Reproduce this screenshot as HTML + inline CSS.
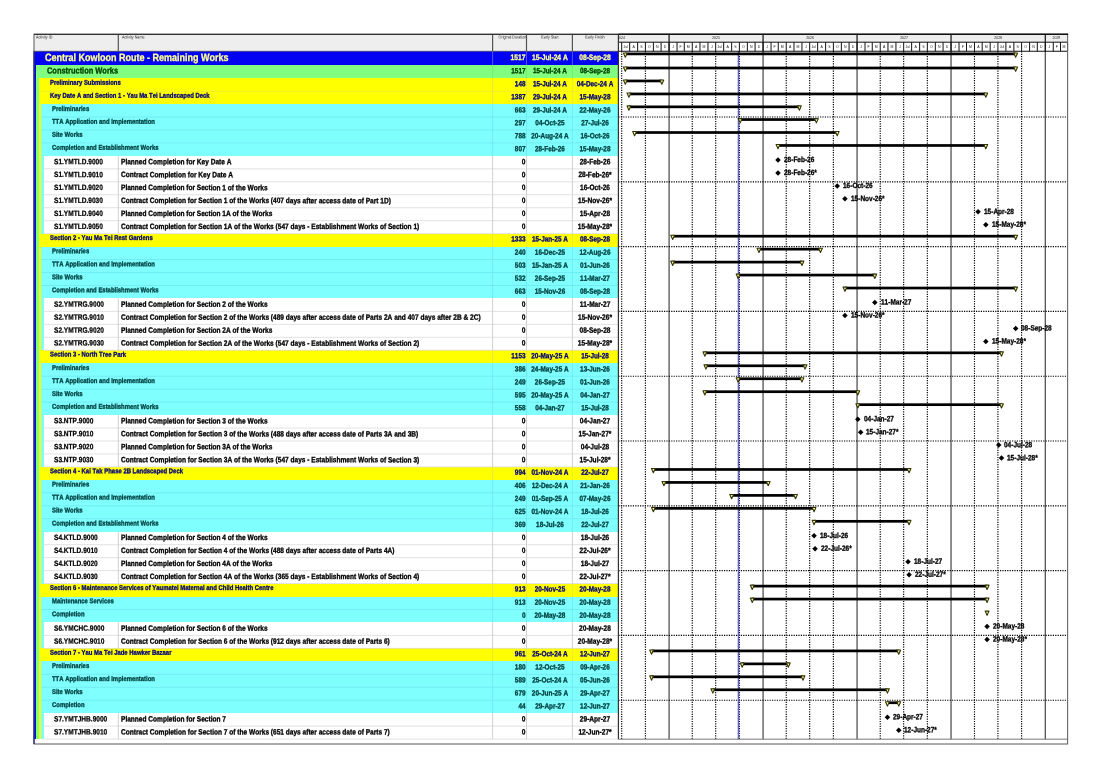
<!DOCTYPE html>
<html><head><meta charset="utf-8"><title>Central Kowloon Route - Remaining Works</title>
<style>
html,body{margin:0;padding:0;background:#fff;}
body{width:1103px;height:780px;position:relative;overflow:hidden;font-family:"Liberation Sans",sans-serif;}
.a{position:absolute;}
.t{position:absolute;top:0;font-kerning:none;white-space:nowrap;font-weight:bold;line-height:1;transform-origin:0 50%;transform:translateY(var(--y)) translateY(-50%) rotate(0.03deg) scaleY(1.18);-webkit-text-stroke:0.27px currentColor;}
#w{position:absolute;left:0;top:0;width:1103px;height:780px;will-change:transform;filter:blur(0.35px);}
.c{text-align:center;}
.r{text-align:right;}
.h{font-weight:normal;font-size:3.7px;color:#222;-webkit-text-stroke:0;}
svg{position:absolute;left:0;top:0;}
</style></head><body><div id="w">

<div class="a" style="left:34.00px;top:34.30px;width:584.40px;height:17.00px;background:#eeeeee;"></div>
<div class="a" style="left:33.80px;top:50.80px;width:584.60px;height:14.20px;background:#0303f4;"></div>
<div class="a" style="left:33.80px;top:64.80px;width:2.50px;height:13.80px;background:#0303f4;"></div>
<div class="a" style="left:36.00px;top:64.80px;width:582.40px;height:13.80px;background:#80ff80;"></div>
<div class="a" style="left:33.80px;top:78.40px;width:2.50px;height:13.20px;background:#0303f4;"></div>
<div class="a" style="left:36.00px;top:78.40px;width:2.90px;height:13.20px;background:#80ff80;"></div>
<div class="a" style="left:38.60px;top:78.40px;width:579.80px;height:13.20px;background:#ffff00;"></div>
<div class="a" style="left:33.80px;top:91.40px;width:2.50px;height:13.10px;background:#0303f4;"></div>
<div class="a" style="left:36.00px;top:91.40px;width:2.90px;height:13.10px;background:#80ff80;"></div>
<div class="a" style="left:38.60px;top:91.40px;width:579.80px;height:13.10px;background:#ffff00;"></div>
<div class="a" style="left:33.80px;top:104.30px;width:2.50px;height:12.90px;background:#0303f4;"></div>
<div class="a" style="left:36.00px;top:104.30px;width:2.90px;height:12.90px;background:#80ff80;"></div>
<div class="a" style="left:38.60px;top:104.30px;width:3.10px;height:12.90px;background:#ffff00;"></div>
<div class="a" style="left:41.40px;top:104.30px;width:577.00px;height:12.90px;background:#80ffff;"></div>
<div class="a" style="left:33.80px;top:117.00px;width:2.50px;height:13.16px;background:#0303f4;"></div>
<div class="a" style="left:36.00px;top:117.00px;width:2.90px;height:13.16px;background:#80ff80;"></div>
<div class="a" style="left:38.60px;top:117.00px;width:3.10px;height:13.16px;background:#ffff00;"></div>
<div class="a" style="left:41.40px;top:117.00px;width:577.00px;height:13.16px;background:#80ffff;"></div>
<div class="a" style="left:33.80px;top:129.96px;width:2.50px;height:13.16px;background:#0303f4;"></div>
<div class="a" style="left:36.00px;top:129.96px;width:2.90px;height:13.16px;background:#80ff80;"></div>
<div class="a" style="left:38.60px;top:129.96px;width:3.10px;height:13.16px;background:#ffff00;"></div>
<div class="a" style="left:41.40px;top:129.96px;width:577.00px;height:13.16px;background:#80ffff;"></div>
<div class="a" style="left:33.80px;top:142.92px;width:2.50px;height:13.16px;background:#0303f4;"></div>
<div class="a" style="left:36.00px;top:142.92px;width:2.90px;height:13.16px;background:#80ff80;"></div>
<div class="a" style="left:38.60px;top:142.92px;width:3.10px;height:13.16px;background:#ffff00;"></div>
<div class="a" style="left:41.40px;top:142.92px;width:577.00px;height:13.16px;background:#80ffff;"></div>
<div class="a" style="left:33.80px;top:155.88px;width:2.50px;height:13.16px;background:#0303f4;"></div>
<div class="a" style="left:36.00px;top:155.88px;width:2.90px;height:13.16px;background:#80ff80;"></div>
<div class="a" style="left:38.60px;top:155.88px;width:3.10px;height:13.16px;background:#ffff00;"></div>
<div class="a" style="left:41.40px;top:155.88px;width:2.80px;height:13.16px;background:#80ffff;"></div>
<div class="a" style="left:43.90px;top:155.88px;width:574.50px;height:13.16px;background:#ffffff;"></div>
<div class="a" style="left:33.80px;top:168.84px;width:2.50px;height:13.16px;background:#0303f4;"></div>
<div class="a" style="left:36.00px;top:168.84px;width:2.90px;height:13.16px;background:#80ff80;"></div>
<div class="a" style="left:38.60px;top:168.84px;width:3.10px;height:13.16px;background:#ffff00;"></div>
<div class="a" style="left:41.40px;top:168.84px;width:2.80px;height:13.16px;background:#80ffff;"></div>
<div class="a" style="left:43.90px;top:168.84px;width:574.50px;height:13.16px;background:#ffffff;"></div>
<div class="a" style="left:33.80px;top:181.80px;width:2.50px;height:13.16px;background:#0303f4;"></div>
<div class="a" style="left:36.00px;top:181.80px;width:2.90px;height:13.16px;background:#80ff80;"></div>
<div class="a" style="left:38.60px;top:181.80px;width:3.10px;height:13.16px;background:#ffff00;"></div>
<div class="a" style="left:41.40px;top:181.80px;width:2.80px;height:13.16px;background:#80ffff;"></div>
<div class="a" style="left:43.90px;top:181.80px;width:574.50px;height:13.16px;background:#ffffff;"></div>
<div class="a" style="left:33.80px;top:194.76px;width:2.50px;height:13.16px;background:#0303f4;"></div>
<div class="a" style="left:36.00px;top:194.76px;width:2.90px;height:13.16px;background:#80ff80;"></div>
<div class="a" style="left:38.60px;top:194.76px;width:3.10px;height:13.16px;background:#ffff00;"></div>
<div class="a" style="left:41.40px;top:194.76px;width:2.80px;height:13.16px;background:#80ffff;"></div>
<div class="a" style="left:43.90px;top:194.76px;width:574.50px;height:13.16px;background:#ffffff;"></div>
<div class="a" style="left:33.80px;top:207.72px;width:2.50px;height:13.16px;background:#0303f4;"></div>
<div class="a" style="left:36.00px;top:207.72px;width:2.90px;height:13.16px;background:#80ff80;"></div>
<div class="a" style="left:38.60px;top:207.72px;width:3.10px;height:13.16px;background:#ffff00;"></div>
<div class="a" style="left:41.40px;top:207.72px;width:2.80px;height:13.16px;background:#80ffff;"></div>
<div class="a" style="left:43.90px;top:207.72px;width:574.50px;height:13.16px;background:#ffffff;"></div>
<div class="a" style="left:33.80px;top:220.68px;width:2.50px;height:13.16px;background:#0303f4;"></div>
<div class="a" style="left:36.00px;top:220.68px;width:2.90px;height:13.16px;background:#80ff80;"></div>
<div class="a" style="left:38.60px;top:220.68px;width:3.10px;height:13.16px;background:#ffff00;"></div>
<div class="a" style="left:41.40px;top:220.68px;width:2.80px;height:13.16px;background:#80ffff;"></div>
<div class="a" style="left:43.90px;top:220.68px;width:574.50px;height:13.16px;background:#ffffff;"></div>
<div class="a" style="left:33.80px;top:233.64px;width:2.50px;height:13.16px;background:#0303f4;"></div>
<div class="a" style="left:36.00px;top:233.64px;width:2.90px;height:13.16px;background:#80ff80;"></div>
<div class="a" style="left:38.60px;top:233.64px;width:579.80px;height:13.16px;background:#ffff00;"></div>
<div class="a" style="left:33.80px;top:246.60px;width:2.50px;height:13.16px;background:#0303f4;"></div>
<div class="a" style="left:36.00px;top:246.60px;width:2.90px;height:13.16px;background:#80ff80;"></div>
<div class="a" style="left:38.60px;top:246.60px;width:3.10px;height:13.16px;background:#ffff00;"></div>
<div class="a" style="left:41.40px;top:246.60px;width:577.00px;height:13.16px;background:#80ffff;"></div>
<div class="a" style="left:33.80px;top:259.56px;width:2.50px;height:13.16px;background:#0303f4;"></div>
<div class="a" style="left:36.00px;top:259.56px;width:2.90px;height:13.16px;background:#80ff80;"></div>
<div class="a" style="left:38.60px;top:259.56px;width:3.10px;height:13.16px;background:#ffff00;"></div>
<div class="a" style="left:41.40px;top:259.56px;width:577.00px;height:13.16px;background:#80ffff;"></div>
<div class="a" style="left:33.80px;top:272.52px;width:2.50px;height:13.16px;background:#0303f4;"></div>
<div class="a" style="left:36.00px;top:272.52px;width:2.90px;height:13.16px;background:#80ff80;"></div>
<div class="a" style="left:38.60px;top:272.52px;width:3.10px;height:13.16px;background:#ffff00;"></div>
<div class="a" style="left:41.40px;top:272.52px;width:577.00px;height:13.16px;background:#80ffff;"></div>
<div class="a" style="left:33.80px;top:285.48px;width:2.50px;height:13.16px;background:#0303f4;"></div>
<div class="a" style="left:36.00px;top:285.48px;width:2.90px;height:13.16px;background:#80ff80;"></div>
<div class="a" style="left:38.60px;top:285.48px;width:3.10px;height:13.16px;background:#ffff00;"></div>
<div class="a" style="left:41.40px;top:285.48px;width:577.00px;height:13.16px;background:#80ffff;"></div>
<div class="a" style="left:33.80px;top:298.44px;width:2.50px;height:13.16px;background:#0303f4;"></div>
<div class="a" style="left:36.00px;top:298.44px;width:2.90px;height:13.16px;background:#80ff80;"></div>
<div class="a" style="left:38.60px;top:298.44px;width:3.10px;height:13.16px;background:#ffff00;"></div>
<div class="a" style="left:41.40px;top:298.44px;width:2.80px;height:13.16px;background:#80ffff;"></div>
<div class="a" style="left:43.90px;top:298.44px;width:574.50px;height:13.16px;background:#ffffff;"></div>
<div class="a" style="left:33.80px;top:311.40px;width:2.50px;height:13.16px;background:#0303f4;"></div>
<div class="a" style="left:36.00px;top:311.40px;width:2.90px;height:13.16px;background:#80ff80;"></div>
<div class="a" style="left:38.60px;top:311.40px;width:3.10px;height:13.16px;background:#ffff00;"></div>
<div class="a" style="left:41.40px;top:311.40px;width:2.80px;height:13.16px;background:#80ffff;"></div>
<div class="a" style="left:43.90px;top:311.40px;width:574.50px;height:13.16px;background:#ffffff;"></div>
<div class="a" style="left:33.80px;top:324.36px;width:2.50px;height:13.16px;background:#0303f4;"></div>
<div class="a" style="left:36.00px;top:324.36px;width:2.90px;height:13.16px;background:#80ff80;"></div>
<div class="a" style="left:38.60px;top:324.36px;width:3.10px;height:13.16px;background:#ffff00;"></div>
<div class="a" style="left:41.40px;top:324.36px;width:2.80px;height:13.16px;background:#80ffff;"></div>
<div class="a" style="left:43.90px;top:324.36px;width:574.50px;height:13.16px;background:#ffffff;"></div>
<div class="a" style="left:33.80px;top:337.32px;width:2.50px;height:13.16px;background:#0303f4;"></div>
<div class="a" style="left:36.00px;top:337.32px;width:2.90px;height:13.16px;background:#80ff80;"></div>
<div class="a" style="left:38.60px;top:337.32px;width:3.10px;height:13.16px;background:#ffff00;"></div>
<div class="a" style="left:41.40px;top:337.32px;width:2.80px;height:13.16px;background:#80ffff;"></div>
<div class="a" style="left:43.90px;top:337.32px;width:574.50px;height:13.16px;background:#ffffff;"></div>
<div class="a" style="left:33.80px;top:350.28px;width:2.50px;height:13.16px;background:#0303f4;"></div>
<div class="a" style="left:36.00px;top:350.28px;width:2.90px;height:13.16px;background:#80ff80;"></div>
<div class="a" style="left:38.60px;top:350.28px;width:579.80px;height:13.16px;background:#ffff00;"></div>
<div class="a" style="left:33.80px;top:363.24px;width:2.50px;height:13.16px;background:#0303f4;"></div>
<div class="a" style="left:36.00px;top:363.24px;width:2.90px;height:13.16px;background:#80ff80;"></div>
<div class="a" style="left:38.60px;top:363.24px;width:3.10px;height:13.16px;background:#ffff00;"></div>
<div class="a" style="left:41.40px;top:363.24px;width:577.00px;height:13.16px;background:#80ffff;"></div>
<div class="a" style="left:33.80px;top:376.20px;width:2.50px;height:13.16px;background:#0303f4;"></div>
<div class="a" style="left:36.00px;top:376.20px;width:2.90px;height:13.16px;background:#80ff80;"></div>
<div class="a" style="left:38.60px;top:376.20px;width:3.10px;height:13.16px;background:#ffff00;"></div>
<div class="a" style="left:41.40px;top:376.20px;width:577.00px;height:13.16px;background:#80ffff;"></div>
<div class="a" style="left:33.80px;top:389.16px;width:2.50px;height:13.16px;background:#0303f4;"></div>
<div class="a" style="left:36.00px;top:389.16px;width:2.90px;height:13.16px;background:#80ff80;"></div>
<div class="a" style="left:38.60px;top:389.16px;width:3.10px;height:13.16px;background:#ffff00;"></div>
<div class="a" style="left:41.40px;top:389.16px;width:577.00px;height:13.16px;background:#80ffff;"></div>
<div class="a" style="left:33.80px;top:402.12px;width:2.50px;height:13.16px;background:#0303f4;"></div>
<div class="a" style="left:36.00px;top:402.12px;width:2.90px;height:13.16px;background:#80ff80;"></div>
<div class="a" style="left:38.60px;top:402.12px;width:3.10px;height:13.16px;background:#ffff00;"></div>
<div class="a" style="left:41.40px;top:402.12px;width:577.00px;height:13.16px;background:#80ffff;"></div>
<div class="a" style="left:33.80px;top:415.08px;width:2.50px;height:13.16px;background:#0303f4;"></div>
<div class="a" style="left:36.00px;top:415.08px;width:2.90px;height:13.16px;background:#80ff80;"></div>
<div class="a" style="left:38.60px;top:415.08px;width:3.10px;height:13.16px;background:#ffff00;"></div>
<div class="a" style="left:41.40px;top:415.08px;width:2.80px;height:13.16px;background:#80ffff;"></div>
<div class="a" style="left:43.90px;top:415.08px;width:574.50px;height:13.16px;background:#ffffff;"></div>
<div class="a" style="left:33.80px;top:428.04px;width:2.50px;height:13.16px;background:#0303f4;"></div>
<div class="a" style="left:36.00px;top:428.04px;width:2.90px;height:13.16px;background:#80ff80;"></div>
<div class="a" style="left:38.60px;top:428.04px;width:3.10px;height:13.16px;background:#ffff00;"></div>
<div class="a" style="left:41.40px;top:428.04px;width:2.80px;height:13.16px;background:#80ffff;"></div>
<div class="a" style="left:43.90px;top:428.04px;width:574.50px;height:13.16px;background:#ffffff;"></div>
<div class="a" style="left:33.80px;top:441.00px;width:2.50px;height:13.16px;background:#0303f4;"></div>
<div class="a" style="left:36.00px;top:441.00px;width:2.90px;height:13.16px;background:#80ff80;"></div>
<div class="a" style="left:38.60px;top:441.00px;width:3.10px;height:13.16px;background:#ffff00;"></div>
<div class="a" style="left:41.40px;top:441.00px;width:2.80px;height:13.16px;background:#80ffff;"></div>
<div class="a" style="left:43.90px;top:441.00px;width:574.50px;height:13.16px;background:#ffffff;"></div>
<div class="a" style="left:33.80px;top:453.96px;width:2.50px;height:13.16px;background:#0303f4;"></div>
<div class="a" style="left:36.00px;top:453.96px;width:2.90px;height:13.16px;background:#80ff80;"></div>
<div class="a" style="left:38.60px;top:453.96px;width:3.10px;height:13.16px;background:#ffff00;"></div>
<div class="a" style="left:41.40px;top:453.96px;width:2.80px;height:13.16px;background:#80ffff;"></div>
<div class="a" style="left:43.90px;top:453.96px;width:574.50px;height:13.16px;background:#ffffff;"></div>
<div class="a" style="left:33.80px;top:466.92px;width:2.50px;height:13.16px;background:#0303f4;"></div>
<div class="a" style="left:36.00px;top:466.92px;width:2.90px;height:13.16px;background:#80ff80;"></div>
<div class="a" style="left:38.60px;top:466.92px;width:579.80px;height:13.16px;background:#ffff00;"></div>
<div class="a" style="left:33.80px;top:479.88px;width:2.50px;height:13.16px;background:#0303f4;"></div>
<div class="a" style="left:36.00px;top:479.88px;width:2.90px;height:13.16px;background:#80ff80;"></div>
<div class="a" style="left:38.60px;top:479.88px;width:3.10px;height:13.16px;background:#ffff00;"></div>
<div class="a" style="left:41.40px;top:479.88px;width:577.00px;height:13.16px;background:#80ffff;"></div>
<div class="a" style="left:33.80px;top:492.84px;width:2.50px;height:13.16px;background:#0303f4;"></div>
<div class="a" style="left:36.00px;top:492.84px;width:2.90px;height:13.16px;background:#80ff80;"></div>
<div class="a" style="left:38.60px;top:492.84px;width:3.10px;height:13.16px;background:#ffff00;"></div>
<div class="a" style="left:41.40px;top:492.84px;width:577.00px;height:13.16px;background:#80ffff;"></div>
<div class="a" style="left:33.80px;top:505.80px;width:2.50px;height:13.16px;background:#0303f4;"></div>
<div class="a" style="left:36.00px;top:505.80px;width:2.90px;height:13.16px;background:#80ff80;"></div>
<div class="a" style="left:38.60px;top:505.80px;width:3.10px;height:13.16px;background:#ffff00;"></div>
<div class="a" style="left:41.40px;top:505.80px;width:577.00px;height:13.16px;background:#80ffff;"></div>
<div class="a" style="left:33.80px;top:518.76px;width:2.50px;height:13.16px;background:#0303f4;"></div>
<div class="a" style="left:36.00px;top:518.76px;width:2.90px;height:13.16px;background:#80ff80;"></div>
<div class="a" style="left:38.60px;top:518.76px;width:3.10px;height:13.16px;background:#ffff00;"></div>
<div class="a" style="left:41.40px;top:518.76px;width:577.00px;height:13.16px;background:#80ffff;"></div>
<div class="a" style="left:33.80px;top:531.72px;width:2.50px;height:13.16px;background:#0303f4;"></div>
<div class="a" style="left:36.00px;top:531.72px;width:2.90px;height:13.16px;background:#80ff80;"></div>
<div class="a" style="left:38.60px;top:531.72px;width:3.10px;height:13.16px;background:#ffff00;"></div>
<div class="a" style="left:41.40px;top:531.72px;width:2.80px;height:13.16px;background:#80ffff;"></div>
<div class="a" style="left:43.90px;top:531.72px;width:574.50px;height:13.16px;background:#ffffff;"></div>
<div class="a" style="left:33.80px;top:544.68px;width:2.50px;height:13.16px;background:#0303f4;"></div>
<div class="a" style="left:36.00px;top:544.68px;width:2.90px;height:13.16px;background:#80ff80;"></div>
<div class="a" style="left:38.60px;top:544.68px;width:3.10px;height:13.16px;background:#ffff00;"></div>
<div class="a" style="left:41.40px;top:544.68px;width:2.80px;height:13.16px;background:#80ffff;"></div>
<div class="a" style="left:43.90px;top:544.68px;width:574.50px;height:13.16px;background:#ffffff;"></div>
<div class="a" style="left:33.80px;top:557.64px;width:2.50px;height:13.16px;background:#0303f4;"></div>
<div class="a" style="left:36.00px;top:557.64px;width:2.90px;height:13.16px;background:#80ff80;"></div>
<div class="a" style="left:38.60px;top:557.64px;width:3.10px;height:13.16px;background:#ffff00;"></div>
<div class="a" style="left:41.40px;top:557.64px;width:2.80px;height:13.16px;background:#80ffff;"></div>
<div class="a" style="left:43.90px;top:557.64px;width:574.50px;height:13.16px;background:#ffffff;"></div>
<div class="a" style="left:33.80px;top:570.60px;width:2.50px;height:13.16px;background:#0303f4;"></div>
<div class="a" style="left:36.00px;top:570.60px;width:2.90px;height:13.16px;background:#80ff80;"></div>
<div class="a" style="left:38.60px;top:570.60px;width:3.10px;height:13.16px;background:#ffff00;"></div>
<div class="a" style="left:41.40px;top:570.60px;width:2.80px;height:13.16px;background:#80ffff;"></div>
<div class="a" style="left:43.90px;top:570.60px;width:574.50px;height:13.16px;background:#ffffff;"></div>
<div class="a" style="left:33.80px;top:583.56px;width:2.50px;height:13.16px;background:#0303f4;"></div>
<div class="a" style="left:36.00px;top:583.56px;width:2.90px;height:13.16px;background:#80ff80;"></div>
<div class="a" style="left:38.60px;top:583.56px;width:579.80px;height:13.16px;background:#ffff00;"></div>
<div class="a" style="left:33.80px;top:596.52px;width:2.50px;height:13.16px;background:#0303f4;"></div>
<div class="a" style="left:36.00px;top:596.52px;width:2.90px;height:13.16px;background:#80ff80;"></div>
<div class="a" style="left:38.60px;top:596.52px;width:3.10px;height:13.16px;background:#ffff00;"></div>
<div class="a" style="left:41.40px;top:596.52px;width:577.00px;height:13.16px;background:#80ffff;"></div>
<div class="a" style="left:33.80px;top:609.48px;width:2.50px;height:13.16px;background:#0303f4;"></div>
<div class="a" style="left:36.00px;top:609.48px;width:2.90px;height:13.16px;background:#80ff80;"></div>
<div class="a" style="left:38.60px;top:609.48px;width:3.10px;height:13.16px;background:#ffff00;"></div>
<div class="a" style="left:41.40px;top:609.48px;width:577.00px;height:13.16px;background:#80ffff;"></div>
<div class="a" style="left:33.80px;top:622.44px;width:2.50px;height:13.16px;background:#0303f4;"></div>
<div class="a" style="left:36.00px;top:622.44px;width:2.90px;height:13.16px;background:#80ff80;"></div>
<div class="a" style="left:38.60px;top:622.44px;width:3.10px;height:13.16px;background:#ffff00;"></div>
<div class="a" style="left:41.40px;top:622.44px;width:2.80px;height:13.16px;background:#80ffff;"></div>
<div class="a" style="left:43.90px;top:622.44px;width:574.50px;height:13.16px;background:#ffffff;"></div>
<div class="a" style="left:33.80px;top:635.40px;width:2.50px;height:13.16px;background:#0303f4;"></div>
<div class="a" style="left:36.00px;top:635.40px;width:2.90px;height:13.16px;background:#80ff80;"></div>
<div class="a" style="left:38.60px;top:635.40px;width:3.10px;height:13.16px;background:#ffff00;"></div>
<div class="a" style="left:41.40px;top:635.40px;width:2.80px;height:13.16px;background:#80ffff;"></div>
<div class="a" style="left:43.90px;top:635.40px;width:574.50px;height:13.16px;background:#ffffff;"></div>
<div class="a" style="left:33.80px;top:648.36px;width:2.50px;height:13.16px;background:#0303f4;"></div>
<div class="a" style="left:36.00px;top:648.36px;width:2.90px;height:13.16px;background:#80ff80;"></div>
<div class="a" style="left:38.60px;top:648.36px;width:579.80px;height:13.16px;background:#ffff00;"></div>
<div class="a" style="left:33.80px;top:661.32px;width:2.50px;height:13.16px;background:#0303f4;"></div>
<div class="a" style="left:36.00px;top:661.32px;width:2.90px;height:13.16px;background:#80ff80;"></div>
<div class="a" style="left:38.60px;top:661.32px;width:3.10px;height:13.16px;background:#ffff00;"></div>
<div class="a" style="left:41.40px;top:661.32px;width:577.00px;height:13.16px;background:#80ffff;"></div>
<div class="a" style="left:33.80px;top:674.28px;width:2.50px;height:13.16px;background:#0303f4;"></div>
<div class="a" style="left:36.00px;top:674.28px;width:2.90px;height:13.16px;background:#80ff80;"></div>
<div class="a" style="left:38.60px;top:674.28px;width:3.10px;height:13.16px;background:#ffff00;"></div>
<div class="a" style="left:41.40px;top:674.28px;width:577.00px;height:13.16px;background:#80ffff;"></div>
<div class="a" style="left:33.80px;top:687.24px;width:2.50px;height:13.16px;background:#0303f4;"></div>
<div class="a" style="left:36.00px;top:687.24px;width:2.90px;height:13.16px;background:#80ff80;"></div>
<div class="a" style="left:38.60px;top:687.24px;width:3.10px;height:13.16px;background:#ffff00;"></div>
<div class="a" style="left:41.40px;top:687.24px;width:577.00px;height:13.16px;background:#80ffff;"></div>
<div class="a" style="left:33.80px;top:700.20px;width:2.50px;height:13.16px;background:#0303f4;"></div>
<div class="a" style="left:36.00px;top:700.20px;width:2.90px;height:13.16px;background:#80ff80;"></div>
<div class="a" style="left:38.60px;top:700.20px;width:3.10px;height:13.16px;background:#ffff00;"></div>
<div class="a" style="left:41.40px;top:700.20px;width:577.00px;height:13.16px;background:#80ffff;"></div>
<div class="a" style="left:33.80px;top:713.16px;width:2.50px;height:13.16px;background:#0303f4;"></div>
<div class="a" style="left:36.00px;top:713.16px;width:2.90px;height:13.16px;background:#80ff80;"></div>
<div class="a" style="left:38.60px;top:713.16px;width:3.10px;height:13.16px;background:#ffff00;"></div>
<div class="a" style="left:41.40px;top:713.16px;width:2.80px;height:13.16px;background:#80ffff;"></div>
<div class="a" style="left:43.90px;top:713.16px;width:574.50px;height:13.16px;background:#ffffff;"></div>
<div class="a" style="left:33.80px;top:726.12px;width:2.50px;height:13.16px;background:#0303f4;"></div>
<div class="a" style="left:36.00px;top:726.12px;width:2.90px;height:13.16px;background:#80ff80;"></div>
<div class="a" style="left:38.60px;top:726.12px;width:3.10px;height:13.16px;background:#ffff00;"></div>
<div class="a" style="left:41.40px;top:726.12px;width:2.80px;height:13.16px;background:#80ffff;"></div>
<div class="a" style="left:43.90px;top:726.12px;width:574.50px;height:13.16px;background:#ffffff;"></div>
<div class="t" style="left:44.5px;--y:58.00px;font-size:9.0px;color:#ffff90">Central Kowloon Route - Remaining Works</div>
<div class="t r" style="left:492.6px;width:32.50px;--y:58.10px;font-size:6.7px;color:#ffff90">1517</div>
<div class="t c" style="left:526.5px;width:45.90px;--y:58.10px;font-size:6.7px;color:#ffff90">15-Jul-24 A</div>
<div class="t c" style="left:572.4px;width:46.00px;--y:58.10px;font-size:6.7px;color:#ffff90">08-Sep-28</div>
<div class="t" style="left:47.0px;--y:70.80px;font-size:7.45px;color:#004000">Construction Works</div>
<div class="t r" style="left:492.6px;width:32.50px;--y:71.00px;font-size:6.4px;color:#004000">1517</div>
<div class="t c" style="left:526.5px;width:45.90px;--y:71.00px;font-size:6.4px;color:#004000">15-Jul-24 A</div>
<div class="t c" style="left:572.4px;width:46.00px;--y:71.00px;font-size:6.4px;color:#004000">08-Sep-28</div>
<div class="t" style="left:50.0px;--y:83.50px;font-size:5.93px;color:#000080">Preliminary Submissions</div>
<div class="t r" style="left:492.6px;width:32.50px;--y:84.20px;font-size:6.4px;color:#000080">148</div>
<div class="t c" style="left:526.5px;width:45.90px;--y:84.20px;font-size:6.4px;color:#000080">15-Jul-24 A</div>
<div class="t c" style="left:572.4px;width:46.00px;--y:84.20px;font-size:6.4px;color:#000080">04-Dec-24 A</div>
<div class="t" style="left:50.0px;--y:96.50px;font-size:5.93px;color:#000080">Key Date A and Section 1 - Yau Ma Tei Landscaped Deck</div>
<div class="t r" style="left:492.6px;width:32.50px;--y:97.20px;font-size:6.4px;color:#000080">1387</div>
<div class="t c" style="left:526.5px;width:45.90px;--y:97.20px;font-size:6.4px;color:#000080">29-Jul-24 A</div>
<div class="t c" style="left:572.4px;width:46.00px;--y:97.20px;font-size:6.4px;color:#000080">15-May-28</div>
<div class="t" style="left:52.2px;--y:109.80px;font-size:5.93px;color:#004040">Preliminaries</div>
<div class="t r" style="left:492.6px;width:32.50px;--y:110.40px;font-size:6.4px;color:#004040">663</div>
<div class="t c" style="left:526.5px;width:45.90px;--y:110.40px;font-size:6.4px;color:#004040">29-Jul-24 A</div>
<div class="t c" style="left:572.4px;width:46.00px;--y:110.40px;font-size:6.4px;color:#004040">22-May-26</div>
<div class="t" style="left:52.2px;--y:122.50px;font-size:5.93px;color:#004040">TTA Application and Implementation</div>
<div class="t r" style="left:492.6px;width:32.50px;--y:123.10px;font-size:6.4px;color:#004040">297</div>
<div class="t c" style="left:526.5px;width:45.90px;--y:123.10px;font-size:6.4px;color:#004040">04-Oct-25</div>
<div class="t c" style="left:572.4px;width:46.00px;--y:123.10px;font-size:6.4px;color:#004040">27-Jul-26</div>
<div class="t" style="left:52.2px;--y:135.46px;font-size:5.93px;color:#004040">Site Works</div>
<div class="t r" style="left:492.6px;width:32.50px;--y:136.06px;font-size:6.4px;color:#004040">788</div>
<div class="t c" style="left:526.5px;width:45.90px;--y:136.06px;font-size:6.4px;color:#004040">20-Aug-24 A</div>
<div class="t c" style="left:572.4px;width:46.00px;--y:136.06px;font-size:6.4px;color:#004040">16-Oct-26</div>
<div class="t" style="left:52.2px;--y:148.42px;font-size:5.93px;color:#004040">Completion and Establishment Works</div>
<div class="t r" style="left:492.6px;width:32.50px;--y:149.02px;font-size:6.4px;color:#004040">807</div>
<div class="t c" style="left:526.5px;width:45.90px;--y:149.02px;font-size:6.4px;color:#004040">28-Feb-26</div>
<div class="t c" style="left:572.4px;width:46.00px;--y:149.02px;font-size:6.4px;color:#004040">15-May-28</div>
<div class="t" style="left:54.2px;--y:162.13px;font-size:6.57px;color:#000;-webkit-text-stroke-width:.19px">S1.YMTLD.9000</div>
<div class="t" style="left:121px;--y:162.13px;font-size:6.57px;color:#000">Planned Completion for Key Date A</div>
<div class="t r" style="left:492.6px;width:32.50px;--y:162.13px;font-size:6.57px;color:#000">0</div>
<div class="t c" style="left:572.4px;width:46.00px;--y:162.13px;font-size:6.57px;color:#000">28-Feb-26</div>
<div class="t" style="left:54.2px;--y:175.09px;font-size:6.57px;color:#000;-webkit-text-stroke-width:.19px">S1.YMTLD.9010</div>
<div class="t" style="left:121px;--y:175.09px;font-size:6.57px;color:#000">Contract Completion for Key Date A</div>
<div class="t r" style="left:492.6px;width:32.50px;--y:175.09px;font-size:6.57px;color:#000">0</div>
<div class="t c" style="left:572.4px;width:46.00px;--y:175.09px;font-size:6.57px;color:#000">28-Feb-26*</div>
<div class="t" style="left:54.2px;--y:188.05px;font-size:6.57px;color:#000;-webkit-text-stroke-width:.19px">S1.YMTLD.9020</div>
<div class="t" style="left:121px;--y:188.05px;font-size:6.57px;color:#000">Planned Completion for Section 1 of the Works</div>
<div class="t r" style="left:492.6px;width:32.50px;--y:188.05px;font-size:6.57px;color:#000">0</div>
<div class="t c" style="left:572.4px;width:46.00px;--y:188.05px;font-size:6.57px;color:#000">16-Oct-26</div>
<div class="t" style="left:54.2px;--y:201.01px;font-size:6.57px;color:#000;-webkit-text-stroke-width:.19px">S1.YMTLD.9030</div>
<div class="t" style="left:121px;--y:201.01px;font-size:6.57px;color:#000">Contract Completion for Section 1 of the Works (407 days after access date of Part 1D)</div>
<div class="t r" style="left:492.6px;width:32.50px;--y:201.01px;font-size:6.57px;color:#000">0</div>
<div class="t c" style="left:572.4px;width:46.00px;--y:201.01px;font-size:6.57px;color:#000">15-Nov-26*</div>
<div class="t" style="left:54.2px;--y:213.97px;font-size:6.57px;color:#000;-webkit-text-stroke-width:.19px">S1.YMTLD.9040</div>
<div class="t" style="left:121px;--y:213.97px;font-size:6.57px;color:#000">Planned Completion for Section 1A of the Works</div>
<div class="t r" style="left:492.6px;width:32.50px;--y:213.97px;font-size:6.57px;color:#000">0</div>
<div class="t c" style="left:572.4px;width:46.00px;--y:213.97px;font-size:6.57px;color:#000">15-Apr-28</div>
<div class="t" style="left:54.2px;--y:226.93px;font-size:6.57px;color:#000;-webkit-text-stroke-width:.19px">S1.YMTLD.9050</div>
<div class="t" style="left:121px;--y:226.93px;font-size:6.57px;color:#000">Contract Completion for Section 1A of the Works (547 days - Establishment Works of Section 1)</div>
<div class="t r" style="left:492.6px;width:32.50px;--y:226.93px;font-size:6.57px;color:#000">0</div>
<div class="t c" style="left:572.4px;width:46.00px;--y:226.93px;font-size:6.57px;color:#000">15-May-28*</div>
<div class="t" style="left:50.0px;--y:238.74px;font-size:5.93px;color:#000080">Section 2 - Yau Ma Tei Rest Gardens</div>
<div class="t r" style="left:492.6px;width:32.50px;--y:239.44px;font-size:6.4px;color:#000080">1333</div>
<div class="t c" style="left:526.5px;width:45.90px;--y:239.44px;font-size:6.4px;color:#000080">15-Jan-25 A</div>
<div class="t c" style="left:572.4px;width:46.00px;--y:239.44px;font-size:6.4px;color:#000080">08-Sep-28</div>
<div class="t" style="left:52.2px;--y:252.10px;font-size:5.93px;color:#004040">Preliminaries</div>
<div class="t r" style="left:492.6px;width:32.50px;--y:252.70px;font-size:6.4px;color:#004040">240</div>
<div class="t c" style="left:526.5px;width:45.90px;--y:252.70px;font-size:6.4px;color:#004040">16-Dec-25</div>
<div class="t c" style="left:572.4px;width:46.00px;--y:252.70px;font-size:6.4px;color:#004040">12-Aug-26</div>
<div class="t" style="left:52.2px;--y:265.06px;font-size:5.93px;color:#004040">TTA Application and Implementation</div>
<div class="t r" style="left:492.6px;width:32.50px;--y:265.66px;font-size:6.4px;color:#004040">503</div>
<div class="t c" style="left:526.5px;width:45.90px;--y:265.66px;font-size:6.4px;color:#004040">15-Jan-25 A</div>
<div class="t c" style="left:572.4px;width:46.00px;--y:265.66px;font-size:6.4px;color:#004040">01-Jun-26</div>
<div class="t" style="left:52.2px;--y:278.02px;font-size:5.93px;color:#004040">Site Works</div>
<div class="t r" style="left:492.6px;width:32.50px;--y:278.62px;font-size:6.4px;color:#004040">532</div>
<div class="t c" style="left:526.5px;width:45.90px;--y:278.62px;font-size:6.4px;color:#004040">26-Sep-25</div>
<div class="t c" style="left:572.4px;width:46.00px;--y:278.62px;font-size:6.4px;color:#004040">11-Mar-27</div>
<div class="t" style="left:52.2px;--y:290.98px;font-size:5.93px;color:#004040">Completion and Establishment Works</div>
<div class="t r" style="left:492.6px;width:32.50px;--y:291.58px;font-size:6.4px;color:#004040">663</div>
<div class="t c" style="left:526.5px;width:45.90px;--y:291.58px;font-size:6.4px;color:#004040">15-Nov-26</div>
<div class="t c" style="left:572.4px;width:46.00px;--y:291.58px;font-size:6.4px;color:#004040">08-Sep-28</div>
<div class="t" style="left:54.2px;--y:304.69px;font-size:6.57px;color:#000;-webkit-text-stroke-width:.19px">S2.YMTRG.9000</div>
<div class="t" style="left:121px;--y:304.69px;font-size:6.57px;color:#000">Planned Completion for Section 2 of the Works</div>
<div class="t r" style="left:492.6px;width:32.50px;--y:304.69px;font-size:6.57px;color:#000">0</div>
<div class="t c" style="left:572.4px;width:46.00px;--y:304.69px;font-size:6.57px;color:#000">11-Mar-27</div>
<div class="t" style="left:54.2px;--y:317.65px;font-size:6.57px;color:#000;-webkit-text-stroke-width:.19px">S2.YMTRG.9010</div>
<div class="t" style="left:121px;--y:317.65px;font-size:6.57px;color:#000">Contract Completion for Section 2 of the Works (489 days after access date of Parts 2A and 407 days after 2B &amp; 2C)</div>
<div class="t r" style="left:492.6px;width:32.50px;--y:317.65px;font-size:6.57px;color:#000">0</div>
<div class="t c" style="left:572.4px;width:46.00px;--y:317.65px;font-size:6.57px;color:#000">15-Nov-26*</div>
<div class="t" style="left:54.2px;--y:330.61px;font-size:6.57px;color:#000;-webkit-text-stroke-width:.19px">S2.YMTRG.9020</div>
<div class="t" style="left:121px;--y:330.61px;font-size:6.57px;color:#000">Planned Completion for Section 2A of the Works</div>
<div class="t r" style="left:492.6px;width:32.50px;--y:330.61px;font-size:6.57px;color:#000">0</div>
<div class="t c" style="left:572.4px;width:46.00px;--y:330.61px;font-size:6.57px;color:#000">08-Sep-28</div>
<div class="t" style="left:54.2px;--y:343.57px;font-size:6.57px;color:#000;-webkit-text-stroke-width:.19px">S2.YMTRG.9030</div>
<div class="t" style="left:121px;--y:343.57px;font-size:6.57px;color:#000">Contract Completion for Section 2A of the Works (547 days - Establishment Works of Section 2)</div>
<div class="t r" style="left:492.6px;width:32.50px;--y:343.57px;font-size:6.57px;color:#000">0</div>
<div class="t c" style="left:572.4px;width:46.00px;--y:343.57px;font-size:6.57px;color:#000">15-May-28*</div>
<div class="t" style="left:50.0px;--y:355.38px;font-size:5.93px;color:#000080">Section 3 - North Tree Park</div>
<div class="t r" style="left:492.6px;width:32.50px;--y:356.08px;font-size:6.4px;color:#000080">1153</div>
<div class="t c" style="left:526.5px;width:45.90px;--y:356.08px;font-size:6.4px;color:#000080">20-May-25 A</div>
<div class="t c" style="left:572.4px;width:46.00px;--y:356.08px;font-size:6.4px;color:#000080">15-Jul-28</div>
<div class="t" style="left:52.2px;--y:368.74px;font-size:5.93px;color:#004040">Preliminaries</div>
<div class="t r" style="left:492.6px;width:32.50px;--y:369.34px;font-size:6.4px;color:#004040">386</div>
<div class="t c" style="left:526.5px;width:45.90px;--y:369.34px;font-size:6.4px;color:#004040">24-May-25 A</div>
<div class="t c" style="left:572.4px;width:46.00px;--y:369.34px;font-size:6.4px;color:#004040">13-Jun-26</div>
<div class="t" style="left:52.2px;--y:381.70px;font-size:5.93px;color:#004040">TTA Application and Implementation</div>
<div class="t r" style="left:492.6px;width:32.50px;--y:382.30px;font-size:6.4px;color:#004040">249</div>
<div class="t c" style="left:526.5px;width:45.90px;--y:382.30px;font-size:6.4px;color:#004040">26-Sep-25</div>
<div class="t c" style="left:572.4px;width:46.00px;--y:382.30px;font-size:6.4px;color:#004040">01-Jun-26</div>
<div class="t" style="left:52.2px;--y:394.66px;font-size:5.93px;color:#004040">Site Works</div>
<div class="t r" style="left:492.6px;width:32.50px;--y:395.26px;font-size:6.4px;color:#004040">595</div>
<div class="t c" style="left:526.5px;width:45.90px;--y:395.26px;font-size:6.4px;color:#004040">20-May-25 A</div>
<div class="t c" style="left:572.4px;width:46.00px;--y:395.26px;font-size:6.4px;color:#004040">04-Jan-27</div>
<div class="t" style="left:52.2px;--y:407.62px;font-size:5.93px;color:#004040">Completion and Establishment Works</div>
<div class="t r" style="left:492.6px;width:32.50px;--y:408.22px;font-size:6.4px;color:#004040">558</div>
<div class="t c" style="left:526.5px;width:45.90px;--y:408.22px;font-size:6.4px;color:#004040">04-Jan-27</div>
<div class="t c" style="left:572.4px;width:46.00px;--y:408.22px;font-size:6.4px;color:#004040">15-Jul-28</div>
<div class="t" style="left:54.2px;--y:421.33px;font-size:6.57px;color:#000;-webkit-text-stroke-width:.19px">S3.NTP.9000</div>
<div class="t" style="left:121px;--y:421.33px;font-size:6.57px;color:#000">Planned Completion for Section 3 of the Works</div>
<div class="t r" style="left:492.6px;width:32.50px;--y:421.33px;font-size:6.57px;color:#000">0</div>
<div class="t c" style="left:572.4px;width:46.00px;--y:421.33px;font-size:6.57px;color:#000">04-Jan-27</div>
<div class="t" style="left:54.2px;--y:434.29px;font-size:6.57px;color:#000;-webkit-text-stroke-width:.19px">S3.NTP.9010</div>
<div class="t" style="left:121px;--y:434.29px;font-size:6.57px;color:#000">Contract Completion for Section 3 of the Works (488 days after access date of Parts 3A and 3B)</div>
<div class="t r" style="left:492.6px;width:32.50px;--y:434.29px;font-size:6.57px;color:#000">0</div>
<div class="t c" style="left:572.4px;width:46.00px;--y:434.29px;font-size:6.57px;color:#000">15-Jan-27*</div>
<div class="t" style="left:54.2px;--y:447.25px;font-size:6.57px;color:#000;-webkit-text-stroke-width:.19px">S3.NTP.9020</div>
<div class="t" style="left:121px;--y:447.25px;font-size:6.57px;color:#000">Planned Completion for Section 3A of the Works</div>
<div class="t r" style="left:492.6px;width:32.50px;--y:447.25px;font-size:6.57px;color:#000">0</div>
<div class="t c" style="left:572.4px;width:46.00px;--y:447.25px;font-size:6.57px;color:#000">04-Jul-28</div>
<div class="t" style="left:54.2px;--y:460.21px;font-size:6.57px;color:#000;-webkit-text-stroke-width:.19px">S3.NTP.9030</div>
<div class="t" style="left:121px;--y:460.21px;font-size:6.57px;color:#000">Contract Completion for Section 3A of the Works (547 days - Establishment Works of Section 3)</div>
<div class="t r" style="left:492.6px;width:32.50px;--y:460.21px;font-size:6.57px;color:#000">0</div>
<div class="t c" style="left:572.4px;width:46.00px;--y:460.21px;font-size:6.57px;color:#000">15-Jul-28*</div>
<div class="t" style="left:50.0px;--y:472.02px;font-size:5.93px;color:#000080">Section 4 - Kai Tak Phase 2B Landscaped Deck</div>
<div class="t r" style="left:492.6px;width:32.50px;--y:472.72px;font-size:6.4px;color:#000080">994</div>
<div class="t c" style="left:526.5px;width:45.90px;--y:472.72px;font-size:6.4px;color:#000080">01-Nov-24 A</div>
<div class="t c" style="left:572.4px;width:46.00px;--y:472.72px;font-size:6.4px;color:#000080">22-Jul-27</div>
<div class="t" style="left:52.2px;--y:485.38px;font-size:5.93px;color:#004040">Preliminaries</div>
<div class="t r" style="left:492.6px;width:32.50px;--y:485.98px;font-size:6.4px;color:#004040">406</div>
<div class="t c" style="left:526.5px;width:45.90px;--y:485.98px;font-size:6.4px;color:#004040">12-Dec-24 A</div>
<div class="t c" style="left:572.4px;width:46.00px;--y:485.98px;font-size:6.4px;color:#004040">21-Jan-26</div>
<div class="t" style="left:52.2px;--y:498.34px;font-size:5.93px;color:#004040">TTA Application and Implementation</div>
<div class="t r" style="left:492.6px;width:32.50px;--y:498.94px;font-size:6.4px;color:#004040">249</div>
<div class="t c" style="left:526.5px;width:45.90px;--y:498.94px;font-size:6.4px;color:#004040">01-Sep-25 A</div>
<div class="t c" style="left:572.4px;width:46.00px;--y:498.94px;font-size:6.4px;color:#004040">07-May-26</div>
<div class="t" style="left:52.2px;--y:511.30px;font-size:5.93px;color:#004040">Site Works</div>
<div class="t r" style="left:492.6px;width:32.50px;--y:511.90px;font-size:6.4px;color:#004040">625</div>
<div class="t c" style="left:526.5px;width:45.90px;--y:511.90px;font-size:6.4px;color:#004040">01-Nov-24 A</div>
<div class="t c" style="left:572.4px;width:46.00px;--y:511.90px;font-size:6.4px;color:#004040">18-Jul-26</div>
<div class="t" style="left:52.2px;--y:524.26px;font-size:5.93px;color:#004040">Completion and Establishment Works</div>
<div class="t r" style="left:492.6px;width:32.50px;--y:524.86px;font-size:6.4px;color:#004040">369</div>
<div class="t c" style="left:526.5px;width:45.90px;--y:524.86px;font-size:6.4px;color:#004040">18-Jul-26</div>
<div class="t c" style="left:572.4px;width:46.00px;--y:524.86px;font-size:6.4px;color:#004040">22-Jul-27</div>
<div class="t" style="left:54.2px;--y:537.97px;font-size:6.57px;color:#000;-webkit-text-stroke-width:.19px">S4.KTLD.9000</div>
<div class="t" style="left:121px;--y:537.97px;font-size:6.57px;color:#000">Planned Completion for Section 4 of the Works</div>
<div class="t r" style="left:492.6px;width:32.50px;--y:537.97px;font-size:6.57px;color:#000">0</div>
<div class="t c" style="left:572.4px;width:46.00px;--y:537.97px;font-size:6.57px;color:#000">18-Jul-26</div>
<div class="t" style="left:54.2px;--y:550.93px;font-size:6.57px;color:#000;-webkit-text-stroke-width:.19px">S4.KTLD.9010</div>
<div class="t" style="left:121px;--y:550.93px;font-size:6.57px;color:#000">Contract Completion for Section 4 of the Works (488 days after access date of Parts 4A)</div>
<div class="t r" style="left:492.6px;width:32.50px;--y:550.93px;font-size:6.57px;color:#000">0</div>
<div class="t c" style="left:572.4px;width:46.00px;--y:550.93px;font-size:6.57px;color:#000">22-Jul-26*</div>
<div class="t" style="left:54.2px;--y:563.89px;font-size:6.57px;color:#000;-webkit-text-stroke-width:.19px">S4.KTLD.9020</div>
<div class="t" style="left:121px;--y:563.89px;font-size:6.57px;color:#000">Planned Completion for Section 4A of the Works</div>
<div class="t r" style="left:492.6px;width:32.50px;--y:563.89px;font-size:6.57px;color:#000">0</div>
<div class="t c" style="left:572.4px;width:46.00px;--y:563.89px;font-size:6.57px;color:#000">18-Jul-27</div>
<div class="t" style="left:54.2px;--y:576.85px;font-size:6.57px;color:#000;-webkit-text-stroke-width:.19px">S4.KTLD.9030</div>
<div class="t" style="left:121px;--y:576.85px;font-size:6.57px;color:#000">Contract Completion for Section 4A of the Works (365 days - Establishment Works of Section 4)</div>
<div class="t r" style="left:492.6px;width:32.50px;--y:576.85px;font-size:6.57px;color:#000">0</div>
<div class="t c" style="left:572.4px;width:46.00px;--y:576.85px;font-size:6.57px;color:#000">22-Jul-27*</div>
<div class="t" style="left:50.0px;--y:588.66px;font-size:5.93px;color:#000080">Section 6 - Maintenance Services of Yaumatei Maternal and Child Health Centre</div>
<div class="t r" style="left:492.6px;width:32.50px;--y:589.36px;font-size:6.4px;color:#000080">913</div>
<div class="t c" style="left:526.5px;width:45.90px;--y:589.36px;font-size:6.4px;color:#000080">20-Nov-25</div>
<div class="t c" style="left:572.4px;width:46.00px;--y:589.36px;font-size:6.4px;color:#000080">20-May-28</div>
<div class="t" style="left:52.2px;--y:602.02px;font-size:5.93px;color:#004040">Maintenance Services</div>
<div class="t r" style="left:492.6px;width:32.50px;--y:602.62px;font-size:6.4px;color:#004040">913</div>
<div class="t c" style="left:526.5px;width:45.90px;--y:602.62px;font-size:6.4px;color:#004040">20-Nov-25</div>
<div class="t c" style="left:572.4px;width:46.00px;--y:602.62px;font-size:6.4px;color:#004040">20-May-28</div>
<div class="t" style="left:52.2px;--y:614.98px;font-size:5.93px;color:#004040">Completion</div>
<div class="t r" style="left:492.6px;width:32.50px;--y:615.58px;font-size:6.4px;color:#004040">0</div>
<div class="t c" style="left:526.5px;width:45.90px;--y:615.58px;font-size:6.4px;color:#004040">20-May-28</div>
<div class="t c" style="left:572.4px;width:46.00px;--y:615.58px;font-size:6.4px;color:#004040">20-May-28</div>
<div class="t" style="left:54.2px;--y:628.69px;font-size:6.57px;color:#000;-webkit-text-stroke-width:.19px">S6.YMCHC.9000</div>
<div class="t" style="left:121px;--y:628.69px;font-size:6.57px;color:#000">Planned Completion for Section 6 of the Works</div>
<div class="t r" style="left:492.6px;width:32.50px;--y:628.69px;font-size:6.57px;color:#000">0</div>
<div class="t c" style="left:572.4px;width:46.00px;--y:628.69px;font-size:6.57px;color:#000">20-May-28</div>
<div class="t" style="left:54.2px;--y:641.65px;font-size:6.57px;color:#000;-webkit-text-stroke-width:.19px">S6.YMCHC.9010</div>
<div class="t" style="left:121px;--y:641.65px;font-size:6.57px;color:#000">Contract Completion for Section 6 of the Works (912 days after access date of Parts 6)</div>
<div class="t r" style="left:492.6px;width:32.50px;--y:641.65px;font-size:6.57px;color:#000">0</div>
<div class="t c" style="left:572.4px;width:46.00px;--y:641.65px;font-size:6.57px;color:#000">20-May-28*</div>
<div class="t" style="left:50.0px;--y:653.46px;font-size:5.93px;color:#000080">Section 7 - Yau Ma Tei Jade Hawker Bazaar</div>
<div class="t r" style="left:492.6px;width:32.50px;--y:654.16px;font-size:6.4px;color:#000080">961</div>
<div class="t c" style="left:526.5px;width:45.90px;--y:654.16px;font-size:6.4px;color:#000080">25-Oct-24 A</div>
<div class="t c" style="left:572.4px;width:46.00px;--y:654.16px;font-size:6.4px;color:#000080">12-Jun-27</div>
<div class="t" style="left:52.2px;--y:666.82px;font-size:5.93px;color:#004040">Preliminaries</div>
<div class="t r" style="left:492.6px;width:32.50px;--y:667.42px;font-size:6.4px;color:#004040">180</div>
<div class="t c" style="left:526.5px;width:45.90px;--y:667.42px;font-size:6.4px;color:#004040">12-Oct-25</div>
<div class="t c" style="left:572.4px;width:46.00px;--y:667.42px;font-size:6.4px;color:#004040">09-Apr-26</div>
<div class="t" style="left:52.2px;--y:679.78px;font-size:5.93px;color:#004040">TTA Application and Implementation</div>
<div class="t r" style="left:492.6px;width:32.50px;--y:680.38px;font-size:6.4px;color:#004040">589</div>
<div class="t c" style="left:526.5px;width:45.90px;--y:680.38px;font-size:6.4px;color:#004040">25-Oct-24 A</div>
<div class="t c" style="left:572.4px;width:46.00px;--y:680.38px;font-size:6.4px;color:#004040">05-Jun-26</div>
<div class="t" style="left:52.2px;--y:692.74px;font-size:5.93px;color:#004040">Site Works</div>
<div class="t r" style="left:492.6px;width:32.50px;--y:693.34px;font-size:6.4px;color:#004040">679</div>
<div class="t c" style="left:526.5px;width:45.90px;--y:693.34px;font-size:6.4px;color:#004040">20-Jun-25 A</div>
<div class="t c" style="left:572.4px;width:46.00px;--y:693.34px;font-size:6.4px;color:#004040">29-Apr-27</div>
<div class="t" style="left:52.2px;--y:705.70px;font-size:5.93px;color:#004040">Completion</div>
<div class="t r" style="left:492.6px;width:32.50px;--y:706.30px;font-size:6.4px;color:#004040">44</div>
<div class="t c" style="left:526.5px;width:45.90px;--y:706.30px;font-size:6.4px;color:#004040">29-Apr-27</div>
<div class="t c" style="left:572.4px;width:46.00px;--y:706.30px;font-size:6.4px;color:#004040">12-Jun-27</div>
<div class="t" style="left:54.2px;--y:719.41px;font-size:6.57px;color:#000;-webkit-text-stroke-width:.19px">S7.YMTJHB.9000</div>
<div class="t" style="left:121px;--y:719.41px;font-size:6.57px;color:#000">Planned Completion for Section 7</div>
<div class="t r" style="left:492.6px;width:32.50px;--y:719.41px;font-size:6.57px;color:#000">0</div>
<div class="t c" style="left:572.4px;width:46.00px;--y:719.41px;font-size:6.57px;color:#000">29-Apr-27</div>
<div class="t" style="left:54.2px;--y:732.37px;font-size:6.57px;color:#000;-webkit-text-stroke-width:.19px">S7.YMTJHB.9010</div>
<div class="t" style="left:121px;--y:732.37px;font-size:6.57px;color:#000">Contract Completion for Section 7 of the Works (651 days after access date of Parts 7)</div>
<div class="t r" style="left:492.6px;width:32.50px;--y:732.37px;font-size:6.57px;color:#000">0</div>
<div class="t c" style="left:572.4px;width:46.00px;--y:732.37px;font-size:6.57px;color:#000">12-Jun-27*</div>
<svg width="1103" height="780" viewBox="0 0 1103 780">
<line x1="38.6" y1="91.40" x2="618.4" y2="91.40" stroke="#ecec30" stroke-width="0.8"/>
<line x1="41.4" y1="117.00" x2="618.4" y2="117.00" stroke="#6fe6ef" stroke-width="0.8"/>
<line x1="41.4" y1="129.96" x2="618.4" y2="129.96" stroke="#6fe6ef" stroke-width="0.8"/>
<line x1="41.4" y1="142.92" x2="618.4" y2="142.92" stroke="#6fe6ef" stroke-width="0.8"/>
<line x1="43.9" y1="168.84" x2="618.4" y2="168.84" stroke="#dadada" stroke-width="0.8"/>
<line x1="43.9" y1="181.80" x2="618.4" y2="181.80" stroke="#dadada" stroke-width="0.8"/>
<line x1="43.9" y1="194.76" x2="618.4" y2="194.76" stroke="#dadada" stroke-width="0.8"/>
<line x1="43.9" y1="207.72" x2="618.4" y2="207.72" stroke="#dadada" stroke-width="0.8"/>
<line x1="43.9" y1="220.68" x2="618.4" y2="220.68" stroke="#dadada" stroke-width="0.8"/>
<line x1="43.9" y1="233.64" x2="618.4" y2="233.64" stroke="#dadada" stroke-width="0.8"/>
<line x1="41.4" y1="259.56" x2="618.4" y2="259.56" stroke="#6fe6ef" stroke-width="0.8"/>
<line x1="41.4" y1="272.52" x2="618.4" y2="272.52" stroke="#6fe6ef" stroke-width="0.8"/>
<line x1="41.4" y1="285.48" x2="618.4" y2="285.48" stroke="#6fe6ef" stroke-width="0.8"/>
<line x1="43.9" y1="311.40" x2="618.4" y2="311.40" stroke="#dadada" stroke-width="0.8"/>
<line x1="43.9" y1="324.36" x2="618.4" y2="324.36" stroke="#dadada" stroke-width="0.8"/>
<line x1="43.9" y1="337.32" x2="618.4" y2="337.32" stroke="#dadada" stroke-width="0.8"/>
<line x1="43.9" y1="350.28" x2="618.4" y2="350.28" stroke="#dadada" stroke-width="0.8"/>
<line x1="41.4" y1="376.20" x2="618.4" y2="376.20" stroke="#6fe6ef" stroke-width="0.8"/>
<line x1="41.4" y1="389.16" x2="618.4" y2="389.16" stroke="#6fe6ef" stroke-width="0.8"/>
<line x1="41.4" y1="402.12" x2="618.4" y2="402.12" stroke="#6fe6ef" stroke-width="0.8"/>
<line x1="43.9" y1="428.04" x2="618.4" y2="428.04" stroke="#dadada" stroke-width="0.8"/>
<line x1="43.9" y1="441.00" x2="618.4" y2="441.00" stroke="#dadada" stroke-width="0.8"/>
<line x1="43.9" y1="453.96" x2="618.4" y2="453.96" stroke="#dadada" stroke-width="0.8"/>
<line x1="43.9" y1="466.92" x2="618.4" y2="466.92" stroke="#dadada" stroke-width="0.8"/>
<line x1="41.4" y1="492.84" x2="618.4" y2="492.84" stroke="#6fe6ef" stroke-width="0.8"/>
<line x1="41.4" y1="505.80" x2="618.4" y2="505.80" stroke="#6fe6ef" stroke-width="0.8"/>
<line x1="41.4" y1="518.76" x2="618.4" y2="518.76" stroke="#6fe6ef" stroke-width="0.8"/>
<line x1="43.9" y1="544.68" x2="618.4" y2="544.68" stroke="#dadada" stroke-width="0.8"/>
<line x1="43.9" y1="557.64" x2="618.4" y2="557.64" stroke="#dadada" stroke-width="0.8"/>
<line x1="43.9" y1="570.60" x2="618.4" y2="570.60" stroke="#dadada" stroke-width="0.8"/>
<line x1="43.9" y1="583.56" x2="618.4" y2="583.56" stroke="#dadada" stroke-width="0.8"/>
<line x1="41.4" y1="609.48" x2="618.4" y2="609.48" stroke="#6fe6ef" stroke-width="0.8"/>
<line x1="43.9" y1="635.40" x2="618.4" y2="635.40" stroke="#dadada" stroke-width="0.8"/>
<line x1="43.9" y1="648.36" x2="618.4" y2="648.36" stroke="#dadada" stroke-width="0.8"/>
<line x1="41.4" y1="674.28" x2="618.4" y2="674.28" stroke="#6fe6ef" stroke-width="0.8"/>
<line x1="41.4" y1="687.24" x2="618.4" y2="687.24" stroke="#6fe6ef" stroke-width="0.8"/>
<line x1="41.4" y1="700.20" x2="618.4" y2="700.20" stroke="#6fe6ef" stroke-width="0.8"/>
<line x1="43.9" y1="726.12" x2="618.4" y2="726.12" stroke="#dadada" stroke-width="0.8"/>
<line x1="43.9" y1="739.08" x2="618.4" y2="739.08" stroke="#dadada" stroke-width="0.8"/>
<line x1="492.6" y1="50.80" x2="492.6" y2="64.80" stroke="#5a5aff" stroke-width="0.9"/>
<line x1="526.5" y1="50.80" x2="526.5" y2="64.80" stroke="#5a5aff" stroke-width="0.9"/>
<line x1="572.4" y1="50.80" x2="572.4" y2="64.80" stroke="#5a5aff" stroke-width="0.9"/>
<line x1="492.6" y1="64.80" x2="492.6" y2="78.40" stroke="#70ea70" stroke-width="0.9"/>
<line x1="526.5" y1="64.80" x2="526.5" y2="78.40" stroke="#70ea70" stroke-width="0.9"/>
<line x1="572.4" y1="64.80" x2="572.4" y2="78.40" stroke="#70ea70" stroke-width="0.9"/>
<line x1="492.6" y1="78.40" x2="492.6" y2="91.40" stroke="#e8e840" stroke-width="0.9"/>
<line x1="526.5" y1="78.40" x2="526.5" y2="91.40" stroke="#e8e840" stroke-width="0.9"/>
<line x1="572.4" y1="78.40" x2="572.4" y2="91.40" stroke="#e8e840" stroke-width="0.9"/>
<line x1="492.6" y1="91.40" x2="492.6" y2="104.30" stroke="#e8e840" stroke-width="0.9"/>
<line x1="526.5" y1="91.40" x2="526.5" y2="104.30" stroke="#e8e840" stroke-width="0.9"/>
<line x1="572.4" y1="91.40" x2="572.4" y2="104.30" stroke="#e8e840" stroke-width="0.9"/>
<line x1="492.6" y1="104.30" x2="492.6" y2="117.00" stroke="#70e8f0" stroke-width="0.9"/>
<line x1="526.5" y1="104.30" x2="526.5" y2="117.00" stroke="#70e8f0" stroke-width="0.9"/>
<line x1="572.4" y1="104.30" x2="572.4" y2="117.00" stroke="#70e8f0" stroke-width="0.9"/>
<line x1="492.6" y1="117.00" x2="492.6" y2="129.96" stroke="#70e8f0" stroke-width="0.9"/>
<line x1="526.5" y1="117.00" x2="526.5" y2="129.96" stroke="#70e8f0" stroke-width="0.9"/>
<line x1="572.4" y1="117.00" x2="572.4" y2="129.96" stroke="#70e8f0" stroke-width="0.9"/>
<line x1="492.6" y1="129.96" x2="492.6" y2="142.92" stroke="#70e8f0" stroke-width="0.9"/>
<line x1="526.5" y1="129.96" x2="526.5" y2="142.92" stroke="#70e8f0" stroke-width="0.9"/>
<line x1="572.4" y1="129.96" x2="572.4" y2="142.92" stroke="#70e8f0" stroke-width="0.9"/>
<line x1="492.6" y1="142.92" x2="492.6" y2="155.88" stroke="#70e8f0" stroke-width="0.9"/>
<line x1="526.5" y1="142.92" x2="526.5" y2="155.88" stroke="#70e8f0" stroke-width="0.9"/>
<line x1="572.4" y1="142.92" x2="572.4" y2="155.88" stroke="#70e8f0" stroke-width="0.9"/>
<line x1="118.3" y1="155.88" x2="118.3" y2="168.84" stroke="#cccccc" stroke-width="0.9"/>
<line x1="492.6" y1="155.88" x2="492.6" y2="168.84" stroke="#cccccc" stroke-width="0.9"/>
<line x1="526.5" y1="155.88" x2="526.5" y2="168.84" stroke="#cccccc" stroke-width="0.9"/>
<line x1="572.4" y1="155.88" x2="572.4" y2="168.84" stroke="#cccccc" stroke-width="0.9"/>
<line x1="118.3" y1="168.84" x2="118.3" y2="181.80" stroke="#cccccc" stroke-width="0.9"/>
<line x1="492.6" y1="168.84" x2="492.6" y2="181.80" stroke="#cccccc" stroke-width="0.9"/>
<line x1="526.5" y1="168.84" x2="526.5" y2="181.80" stroke="#cccccc" stroke-width="0.9"/>
<line x1="572.4" y1="168.84" x2="572.4" y2="181.80" stroke="#cccccc" stroke-width="0.9"/>
<line x1="118.3" y1="181.80" x2="118.3" y2="194.76" stroke="#cccccc" stroke-width="0.9"/>
<line x1="492.6" y1="181.80" x2="492.6" y2="194.76" stroke="#cccccc" stroke-width="0.9"/>
<line x1="526.5" y1="181.80" x2="526.5" y2="194.76" stroke="#cccccc" stroke-width="0.9"/>
<line x1="572.4" y1="181.80" x2="572.4" y2="194.76" stroke="#cccccc" stroke-width="0.9"/>
<line x1="118.3" y1="194.76" x2="118.3" y2="207.72" stroke="#cccccc" stroke-width="0.9"/>
<line x1="492.6" y1="194.76" x2="492.6" y2="207.72" stroke="#cccccc" stroke-width="0.9"/>
<line x1="526.5" y1="194.76" x2="526.5" y2="207.72" stroke="#cccccc" stroke-width="0.9"/>
<line x1="572.4" y1="194.76" x2="572.4" y2="207.72" stroke="#cccccc" stroke-width="0.9"/>
<line x1="118.3" y1="207.72" x2="118.3" y2="220.68" stroke="#cccccc" stroke-width="0.9"/>
<line x1="492.6" y1="207.72" x2="492.6" y2="220.68" stroke="#cccccc" stroke-width="0.9"/>
<line x1="526.5" y1="207.72" x2="526.5" y2="220.68" stroke="#cccccc" stroke-width="0.9"/>
<line x1="572.4" y1="207.72" x2="572.4" y2="220.68" stroke="#cccccc" stroke-width="0.9"/>
<line x1="118.3" y1="220.68" x2="118.3" y2="233.64" stroke="#cccccc" stroke-width="0.9"/>
<line x1="492.6" y1="220.68" x2="492.6" y2="233.64" stroke="#cccccc" stroke-width="0.9"/>
<line x1="526.5" y1="220.68" x2="526.5" y2="233.64" stroke="#cccccc" stroke-width="0.9"/>
<line x1="572.4" y1="220.68" x2="572.4" y2="233.64" stroke="#cccccc" stroke-width="0.9"/>
<line x1="492.6" y1="233.64" x2="492.6" y2="246.60" stroke="#e8e840" stroke-width="0.9"/>
<line x1="526.5" y1="233.64" x2="526.5" y2="246.60" stroke="#e8e840" stroke-width="0.9"/>
<line x1="572.4" y1="233.64" x2="572.4" y2="246.60" stroke="#e8e840" stroke-width="0.9"/>
<line x1="492.6" y1="246.60" x2="492.6" y2="259.56" stroke="#70e8f0" stroke-width="0.9"/>
<line x1="526.5" y1="246.60" x2="526.5" y2="259.56" stroke="#70e8f0" stroke-width="0.9"/>
<line x1="572.4" y1="246.60" x2="572.4" y2="259.56" stroke="#70e8f0" stroke-width="0.9"/>
<line x1="492.6" y1="259.56" x2="492.6" y2="272.52" stroke="#70e8f0" stroke-width="0.9"/>
<line x1="526.5" y1="259.56" x2="526.5" y2="272.52" stroke="#70e8f0" stroke-width="0.9"/>
<line x1="572.4" y1="259.56" x2="572.4" y2="272.52" stroke="#70e8f0" stroke-width="0.9"/>
<line x1="492.6" y1="272.52" x2="492.6" y2="285.48" stroke="#70e8f0" stroke-width="0.9"/>
<line x1="526.5" y1="272.52" x2="526.5" y2="285.48" stroke="#70e8f0" stroke-width="0.9"/>
<line x1="572.4" y1="272.52" x2="572.4" y2="285.48" stroke="#70e8f0" stroke-width="0.9"/>
<line x1="492.6" y1="285.48" x2="492.6" y2="298.44" stroke="#70e8f0" stroke-width="0.9"/>
<line x1="526.5" y1="285.48" x2="526.5" y2="298.44" stroke="#70e8f0" stroke-width="0.9"/>
<line x1="572.4" y1="285.48" x2="572.4" y2="298.44" stroke="#70e8f0" stroke-width="0.9"/>
<line x1="118.3" y1="298.44" x2="118.3" y2="311.40" stroke="#cccccc" stroke-width="0.9"/>
<line x1="492.6" y1="298.44" x2="492.6" y2="311.40" stroke="#cccccc" stroke-width="0.9"/>
<line x1="526.5" y1="298.44" x2="526.5" y2="311.40" stroke="#cccccc" stroke-width="0.9"/>
<line x1="572.4" y1="298.44" x2="572.4" y2="311.40" stroke="#cccccc" stroke-width="0.9"/>
<line x1="118.3" y1="311.40" x2="118.3" y2="324.36" stroke="#cccccc" stroke-width="0.9"/>
<line x1="492.6" y1="311.40" x2="492.6" y2="324.36" stroke="#cccccc" stroke-width="0.9"/>
<line x1="526.5" y1="311.40" x2="526.5" y2="324.36" stroke="#cccccc" stroke-width="0.9"/>
<line x1="572.4" y1="311.40" x2="572.4" y2="324.36" stroke="#cccccc" stroke-width="0.9"/>
<line x1="118.3" y1="324.36" x2="118.3" y2="337.32" stroke="#cccccc" stroke-width="0.9"/>
<line x1="492.6" y1="324.36" x2="492.6" y2="337.32" stroke="#cccccc" stroke-width="0.9"/>
<line x1="526.5" y1="324.36" x2="526.5" y2="337.32" stroke="#cccccc" stroke-width="0.9"/>
<line x1="572.4" y1="324.36" x2="572.4" y2="337.32" stroke="#cccccc" stroke-width="0.9"/>
<line x1="118.3" y1="337.32" x2="118.3" y2="350.28" stroke="#cccccc" stroke-width="0.9"/>
<line x1="492.6" y1="337.32" x2="492.6" y2="350.28" stroke="#cccccc" stroke-width="0.9"/>
<line x1="526.5" y1="337.32" x2="526.5" y2="350.28" stroke="#cccccc" stroke-width="0.9"/>
<line x1="572.4" y1="337.32" x2="572.4" y2="350.28" stroke="#cccccc" stroke-width="0.9"/>
<line x1="492.6" y1="350.28" x2="492.6" y2="363.24" stroke="#e8e840" stroke-width="0.9"/>
<line x1="526.5" y1="350.28" x2="526.5" y2="363.24" stroke="#e8e840" stroke-width="0.9"/>
<line x1="572.4" y1="350.28" x2="572.4" y2="363.24" stroke="#e8e840" stroke-width="0.9"/>
<line x1="492.6" y1="363.24" x2="492.6" y2="376.20" stroke="#70e8f0" stroke-width="0.9"/>
<line x1="526.5" y1="363.24" x2="526.5" y2="376.20" stroke="#70e8f0" stroke-width="0.9"/>
<line x1="572.4" y1="363.24" x2="572.4" y2="376.20" stroke="#70e8f0" stroke-width="0.9"/>
<line x1="492.6" y1="376.20" x2="492.6" y2="389.16" stroke="#70e8f0" stroke-width="0.9"/>
<line x1="526.5" y1="376.20" x2="526.5" y2="389.16" stroke="#70e8f0" stroke-width="0.9"/>
<line x1="572.4" y1="376.20" x2="572.4" y2="389.16" stroke="#70e8f0" stroke-width="0.9"/>
<line x1="492.6" y1="389.16" x2="492.6" y2="402.12" stroke="#70e8f0" stroke-width="0.9"/>
<line x1="526.5" y1="389.16" x2="526.5" y2="402.12" stroke="#70e8f0" stroke-width="0.9"/>
<line x1="572.4" y1="389.16" x2="572.4" y2="402.12" stroke="#70e8f0" stroke-width="0.9"/>
<line x1="492.6" y1="402.12" x2="492.6" y2="415.08" stroke="#70e8f0" stroke-width="0.9"/>
<line x1="526.5" y1="402.12" x2="526.5" y2="415.08" stroke="#70e8f0" stroke-width="0.9"/>
<line x1="572.4" y1="402.12" x2="572.4" y2="415.08" stroke="#70e8f0" stroke-width="0.9"/>
<line x1="118.3" y1="415.08" x2="118.3" y2="428.04" stroke="#cccccc" stroke-width="0.9"/>
<line x1="492.6" y1="415.08" x2="492.6" y2="428.04" stroke="#cccccc" stroke-width="0.9"/>
<line x1="526.5" y1="415.08" x2="526.5" y2="428.04" stroke="#cccccc" stroke-width="0.9"/>
<line x1="572.4" y1="415.08" x2="572.4" y2="428.04" stroke="#cccccc" stroke-width="0.9"/>
<line x1="118.3" y1="428.04" x2="118.3" y2="441.00" stroke="#cccccc" stroke-width="0.9"/>
<line x1="492.6" y1="428.04" x2="492.6" y2="441.00" stroke="#cccccc" stroke-width="0.9"/>
<line x1="526.5" y1="428.04" x2="526.5" y2="441.00" stroke="#cccccc" stroke-width="0.9"/>
<line x1="572.4" y1="428.04" x2="572.4" y2="441.00" stroke="#cccccc" stroke-width="0.9"/>
<line x1="118.3" y1="441.00" x2="118.3" y2="453.96" stroke="#cccccc" stroke-width="0.9"/>
<line x1="492.6" y1="441.00" x2="492.6" y2="453.96" stroke="#cccccc" stroke-width="0.9"/>
<line x1="526.5" y1="441.00" x2="526.5" y2="453.96" stroke="#cccccc" stroke-width="0.9"/>
<line x1="572.4" y1="441.00" x2="572.4" y2="453.96" stroke="#cccccc" stroke-width="0.9"/>
<line x1="118.3" y1="453.96" x2="118.3" y2="466.92" stroke="#cccccc" stroke-width="0.9"/>
<line x1="492.6" y1="453.96" x2="492.6" y2="466.92" stroke="#cccccc" stroke-width="0.9"/>
<line x1="526.5" y1="453.96" x2="526.5" y2="466.92" stroke="#cccccc" stroke-width="0.9"/>
<line x1="572.4" y1="453.96" x2="572.4" y2="466.92" stroke="#cccccc" stroke-width="0.9"/>
<line x1="492.6" y1="466.92" x2="492.6" y2="479.88" stroke="#e8e840" stroke-width="0.9"/>
<line x1="526.5" y1="466.92" x2="526.5" y2="479.88" stroke="#e8e840" stroke-width="0.9"/>
<line x1="572.4" y1="466.92" x2="572.4" y2="479.88" stroke="#e8e840" stroke-width="0.9"/>
<line x1="492.6" y1="479.88" x2="492.6" y2="492.84" stroke="#70e8f0" stroke-width="0.9"/>
<line x1="526.5" y1="479.88" x2="526.5" y2="492.84" stroke="#70e8f0" stroke-width="0.9"/>
<line x1="572.4" y1="479.88" x2="572.4" y2="492.84" stroke="#70e8f0" stroke-width="0.9"/>
<line x1="492.6" y1="492.84" x2="492.6" y2="505.80" stroke="#70e8f0" stroke-width="0.9"/>
<line x1="526.5" y1="492.84" x2="526.5" y2="505.80" stroke="#70e8f0" stroke-width="0.9"/>
<line x1="572.4" y1="492.84" x2="572.4" y2="505.80" stroke="#70e8f0" stroke-width="0.9"/>
<line x1="492.6" y1="505.80" x2="492.6" y2="518.76" stroke="#70e8f0" stroke-width="0.9"/>
<line x1="526.5" y1="505.80" x2="526.5" y2="518.76" stroke="#70e8f0" stroke-width="0.9"/>
<line x1="572.4" y1="505.80" x2="572.4" y2="518.76" stroke="#70e8f0" stroke-width="0.9"/>
<line x1="492.6" y1="518.76" x2="492.6" y2="531.72" stroke="#70e8f0" stroke-width="0.9"/>
<line x1="526.5" y1="518.76" x2="526.5" y2="531.72" stroke="#70e8f0" stroke-width="0.9"/>
<line x1="572.4" y1="518.76" x2="572.4" y2="531.72" stroke="#70e8f0" stroke-width="0.9"/>
<line x1="118.3" y1="531.72" x2="118.3" y2="544.68" stroke="#cccccc" stroke-width="0.9"/>
<line x1="492.6" y1="531.72" x2="492.6" y2="544.68" stroke="#cccccc" stroke-width="0.9"/>
<line x1="526.5" y1="531.72" x2="526.5" y2="544.68" stroke="#cccccc" stroke-width="0.9"/>
<line x1="572.4" y1="531.72" x2="572.4" y2="544.68" stroke="#cccccc" stroke-width="0.9"/>
<line x1="118.3" y1="544.68" x2="118.3" y2="557.64" stroke="#cccccc" stroke-width="0.9"/>
<line x1="492.6" y1="544.68" x2="492.6" y2="557.64" stroke="#cccccc" stroke-width="0.9"/>
<line x1="526.5" y1="544.68" x2="526.5" y2="557.64" stroke="#cccccc" stroke-width="0.9"/>
<line x1="572.4" y1="544.68" x2="572.4" y2="557.64" stroke="#cccccc" stroke-width="0.9"/>
<line x1="118.3" y1="557.64" x2="118.3" y2="570.60" stroke="#cccccc" stroke-width="0.9"/>
<line x1="492.6" y1="557.64" x2="492.6" y2="570.60" stroke="#cccccc" stroke-width="0.9"/>
<line x1="526.5" y1="557.64" x2="526.5" y2="570.60" stroke="#cccccc" stroke-width="0.9"/>
<line x1="572.4" y1="557.64" x2="572.4" y2="570.60" stroke="#cccccc" stroke-width="0.9"/>
<line x1="118.3" y1="570.60" x2="118.3" y2="583.56" stroke="#cccccc" stroke-width="0.9"/>
<line x1="492.6" y1="570.60" x2="492.6" y2="583.56" stroke="#cccccc" stroke-width="0.9"/>
<line x1="526.5" y1="570.60" x2="526.5" y2="583.56" stroke="#cccccc" stroke-width="0.9"/>
<line x1="572.4" y1="570.60" x2="572.4" y2="583.56" stroke="#cccccc" stroke-width="0.9"/>
<line x1="492.6" y1="583.56" x2="492.6" y2="596.52" stroke="#e8e840" stroke-width="0.9"/>
<line x1="526.5" y1="583.56" x2="526.5" y2="596.52" stroke="#e8e840" stroke-width="0.9"/>
<line x1="572.4" y1="583.56" x2="572.4" y2="596.52" stroke="#e8e840" stroke-width="0.9"/>
<line x1="492.6" y1="596.52" x2="492.6" y2="609.48" stroke="#70e8f0" stroke-width="0.9"/>
<line x1="526.5" y1="596.52" x2="526.5" y2="609.48" stroke="#70e8f0" stroke-width="0.9"/>
<line x1="572.4" y1="596.52" x2="572.4" y2="609.48" stroke="#70e8f0" stroke-width="0.9"/>
<line x1="492.6" y1="609.48" x2="492.6" y2="622.44" stroke="#70e8f0" stroke-width="0.9"/>
<line x1="526.5" y1="609.48" x2="526.5" y2="622.44" stroke="#70e8f0" stroke-width="0.9"/>
<line x1="572.4" y1="609.48" x2="572.4" y2="622.44" stroke="#70e8f0" stroke-width="0.9"/>
<line x1="118.3" y1="622.44" x2="118.3" y2="635.40" stroke="#cccccc" stroke-width="0.9"/>
<line x1="492.6" y1="622.44" x2="492.6" y2="635.40" stroke="#cccccc" stroke-width="0.9"/>
<line x1="526.5" y1="622.44" x2="526.5" y2="635.40" stroke="#cccccc" stroke-width="0.9"/>
<line x1="572.4" y1="622.44" x2="572.4" y2="635.40" stroke="#cccccc" stroke-width="0.9"/>
<line x1="118.3" y1="635.40" x2="118.3" y2="648.36" stroke="#cccccc" stroke-width="0.9"/>
<line x1="492.6" y1="635.40" x2="492.6" y2="648.36" stroke="#cccccc" stroke-width="0.9"/>
<line x1="526.5" y1="635.40" x2="526.5" y2="648.36" stroke="#cccccc" stroke-width="0.9"/>
<line x1="572.4" y1="635.40" x2="572.4" y2="648.36" stroke="#cccccc" stroke-width="0.9"/>
<line x1="492.6" y1="648.36" x2="492.6" y2="661.32" stroke="#e8e840" stroke-width="0.9"/>
<line x1="526.5" y1="648.36" x2="526.5" y2="661.32" stroke="#e8e840" stroke-width="0.9"/>
<line x1="572.4" y1="648.36" x2="572.4" y2="661.32" stroke="#e8e840" stroke-width="0.9"/>
<line x1="492.6" y1="661.32" x2="492.6" y2="674.28" stroke="#70e8f0" stroke-width="0.9"/>
<line x1="526.5" y1="661.32" x2="526.5" y2="674.28" stroke="#70e8f0" stroke-width="0.9"/>
<line x1="572.4" y1="661.32" x2="572.4" y2="674.28" stroke="#70e8f0" stroke-width="0.9"/>
<line x1="492.6" y1="674.28" x2="492.6" y2="687.24" stroke="#70e8f0" stroke-width="0.9"/>
<line x1="526.5" y1="674.28" x2="526.5" y2="687.24" stroke="#70e8f0" stroke-width="0.9"/>
<line x1="572.4" y1="674.28" x2="572.4" y2="687.24" stroke="#70e8f0" stroke-width="0.9"/>
<line x1="492.6" y1="687.24" x2="492.6" y2="700.20" stroke="#70e8f0" stroke-width="0.9"/>
<line x1="526.5" y1="687.24" x2="526.5" y2="700.20" stroke="#70e8f0" stroke-width="0.9"/>
<line x1="572.4" y1="687.24" x2="572.4" y2="700.20" stroke="#70e8f0" stroke-width="0.9"/>
<line x1="492.6" y1="700.20" x2="492.6" y2="713.16" stroke="#70e8f0" stroke-width="0.9"/>
<line x1="526.5" y1="700.20" x2="526.5" y2="713.16" stroke="#70e8f0" stroke-width="0.9"/>
<line x1="572.4" y1="700.20" x2="572.4" y2="713.16" stroke="#70e8f0" stroke-width="0.9"/>
<line x1="118.3" y1="713.16" x2="118.3" y2="726.12" stroke="#cccccc" stroke-width="0.9"/>
<line x1="492.6" y1="713.16" x2="492.6" y2="726.12" stroke="#cccccc" stroke-width="0.9"/>
<line x1="526.5" y1="713.16" x2="526.5" y2="726.12" stroke="#cccccc" stroke-width="0.9"/>
<line x1="572.4" y1="713.16" x2="572.4" y2="726.12" stroke="#cccccc" stroke-width="0.9"/>
<line x1="118.3" y1="726.12" x2="118.3" y2="739.08" stroke="#cccccc" stroke-width="0.9"/>
<line x1="492.6" y1="726.12" x2="492.6" y2="739.08" stroke="#cccccc" stroke-width="0.9"/>
<line x1="526.5" y1="726.12" x2="526.5" y2="739.08" stroke="#cccccc" stroke-width="0.9"/>
<line x1="572.4" y1="726.12" x2="572.4" y2="739.08" stroke="#cccccc" stroke-width="0.9"/>
<line x1="118.3" y1="34.3" x2="118.3" y2="51.3" stroke="#555" stroke-width="1.2"/>
<line x1="492.6" y1="34.3" x2="492.6" y2="51.3" stroke="#555" stroke-width="1.2"/>
<line x1="526.5" y1="34.3" x2="526.5" y2="51.3" stroke="#555" stroke-width="1.2"/>
<line x1="572.4" y1="34.3" x2="572.4" y2="51.3" stroke="#555" stroke-width="1.2"/>
<rect x="618.4" y="34.3" width="449.19999999999993" height="7.900000000000006" fill="#eeeeee"/>
<rect x="618.4" y="42.2" width="449.19999999999993" height="9.099999999999994" fill="#ffffff"/>
<line x1="621.70" y1="51.3" x2="621.70" y2="739.1800000000003" stroke="#000" stroke-width="1.15" stroke-dasharray="1.2 1.2"/>
<line x1="645.39" y1="51.3" x2="645.39" y2="739.1800000000003" stroke="#000" stroke-width="1.15" stroke-dasharray="1.2 1.2"/>
<line x1="669.08" y1="51.3" x2="669.08" y2="739.1800000000003" stroke="#4c4c4c" stroke-width="1.25"/>
<line x1="692.26" y1="51.3" x2="692.26" y2="739.1800000000003" stroke="#000" stroke-width="1.15" stroke-dasharray="1.2 1.2"/>
<line x1="715.69" y1="51.3" x2="715.69" y2="739.1800000000003" stroke="#000" stroke-width="1.15" stroke-dasharray="1.2 1.2"/>
<line x1="739.38" y1="51.3" x2="739.38" y2="739.1800000000003" stroke="#000" stroke-width="1.15" stroke-dasharray="1.2 1.2"/>
<line x1="763.07" y1="51.3" x2="763.07" y2="739.1800000000003" stroke="#4c4c4c" stroke-width="1.25"/>
<line x1="786.24" y1="51.3" x2="786.24" y2="739.1800000000003" stroke="#000" stroke-width="1.15" stroke-dasharray="1.2 1.2"/>
<line x1="809.68" y1="51.3" x2="809.68" y2="739.1800000000003" stroke="#000" stroke-width="1.15" stroke-dasharray="1.2 1.2"/>
<line x1="833.37" y1="51.3" x2="833.37" y2="739.1800000000003" stroke="#000" stroke-width="1.15" stroke-dasharray="1.2 1.2"/>
<line x1="857.06" y1="51.3" x2="857.06" y2="739.1800000000003" stroke="#4c4c4c" stroke-width="1.25"/>
<line x1="880.23" y1="51.3" x2="880.23" y2="739.1800000000003" stroke="#000" stroke-width="1.15" stroke-dasharray="1.2 1.2"/>
<line x1="903.66" y1="51.3" x2="903.66" y2="739.1800000000003" stroke="#000" stroke-width="1.15" stroke-dasharray="1.2 1.2"/>
<line x1="927.35" y1="51.3" x2="927.35" y2="739.1800000000003" stroke="#000" stroke-width="1.15" stroke-dasharray="1.2 1.2"/>
<line x1="951.04" y1="51.3" x2="951.04" y2="739.1800000000003" stroke="#4c4c4c" stroke-width="1.25"/>
<line x1="974.48" y1="51.3" x2="974.48" y2="739.1800000000003" stroke="#000" stroke-width="1.15" stroke-dasharray="1.2 1.2"/>
<line x1="997.91" y1="51.3" x2="997.91" y2="739.1800000000003" stroke="#000" stroke-width="1.15" stroke-dasharray="1.2 1.2"/>
<line x1="1021.60" y1="51.3" x2="1021.60" y2="739.1800000000003" stroke="#000" stroke-width="1.15" stroke-dasharray="1.2 1.2"/>
<line x1="1045.29" y1="51.3" x2="1045.29" y2="739.1800000000003" stroke="#4c4c4c" stroke-width="1.25"/>
<line x1="618.4" y1="117.00" x2="1067.6" y2="117.00" stroke="#000" stroke-width="1.15" stroke-dasharray="1.2 1.2"/>
<line x1="618.4" y1="181.80" x2="1067.6" y2="181.80" stroke="#000" stroke-width="1.15" stroke-dasharray="1.2 1.2"/>
<line x1="618.4" y1="246.60" x2="1067.6" y2="246.60" stroke="#000" stroke-width="1.15" stroke-dasharray="1.2 1.2"/>
<line x1="618.4" y1="311.40" x2="1067.6" y2="311.40" stroke="#000" stroke-width="1.15" stroke-dasharray="1.2 1.2"/>
<line x1="618.4" y1="376.20" x2="1067.6" y2="376.20" stroke="#000" stroke-width="1.15" stroke-dasharray="1.2 1.2"/>
<line x1="618.4" y1="441.00" x2="1067.6" y2="441.00" stroke="#000" stroke-width="1.15" stroke-dasharray="1.2 1.2"/>
<line x1="618.4" y1="505.80" x2="1067.6" y2="505.80" stroke="#000" stroke-width="1.15" stroke-dasharray="1.2 1.2"/>
<line x1="618.4" y1="570.60" x2="1067.6" y2="570.60" stroke="#000" stroke-width="1.15" stroke-dasharray="1.2 1.2"/>
<line x1="618.4" y1="635.40" x2="1067.6" y2="635.40" stroke="#000" stroke-width="1.15" stroke-dasharray="1.2 1.2"/>
<line x1="618.4" y1="700.20" x2="1067.6" y2="700.20" stroke="#000" stroke-width="1.15" stroke-dasharray="1.2 1.2"/>
<line x1="738.4" y1="51.3" x2="738.4" y2="739.1800000000003" stroke="#6060cc" stroke-width="1.4"/>
<line x1="621.70" y1="42.2" x2="621.70" y2="51.3" stroke="#111" stroke-width="1"/>
<line x1="629.68" y1="42.2" x2="629.68" y2="51.3" stroke="#111" stroke-width="1"/>
<text x="625.69"  y="47.90" font-size="3.5" text-anchor="middle" fill="#222" font-family="Liberation Sans, sans-serif">Jul</text>
<line x1="637.67" y1="42.2" x2="637.67" y2="51.3" stroke="#111" stroke-width="1"/>
<text x="633.67"  y="47.90" font-size="3.5" text-anchor="middle" fill="#222" font-family="Liberation Sans, sans-serif">A</text>
<line x1="645.39" y1="42.2" x2="645.39" y2="51.3" stroke="#111" stroke-width="1"/>
<text x="641.53"  y="47.90" font-size="3.5" text-anchor="middle" fill="#222" font-family="Liberation Sans, sans-serif">S</text>
<line x1="653.37" y1="42.2" x2="653.37" y2="51.3" stroke="#111" stroke-width="1"/>
<text x="649.38"  y="47.90" font-size="3.5" text-anchor="middle" fill="#222" font-family="Liberation Sans, sans-serif">O</text>
<line x1="661.10" y1="42.2" x2="661.10" y2="51.3" stroke="#111" stroke-width="1"/>
<text x="657.24"  y="47.90" font-size="3.5" text-anchor="middle" fill="#222" font-family="Liberation Sans, sans-serif">N</text>
<line x1="669.08" y1="42.2" x2="669.08" y2="51.3" stroke="#111" stroke-width="1"/>
<text x="665.09"  y="47.90" font-size="3.5" text-anchor="middle" fill="#222" font-family="Liberation Sans, sans-serif">D</text>
<line x1="677.06" y1="42.2" x2="677.06" y2="51.3" stroke="#111" stroke-width="1"/>
<text x="673.07"  y="47.90" font-size="3.5" text-anchor="middle" fill="#222" font-family="Liberation Sans, sans-serif">J</text>
<line x1="684.27" y1="42.2" x2="684.27" y2="51.3" stroke="#111" stroke-width="1"/>
<text x="680.67"  y="47.90" font-size="3.5" text-anchor="middle" fill="#222" font-family="Liberation Sans, sans-serif">F</text>
<line x1="692.26" y1="42.2" x2="692.26" y2="51.3" stroke="#111" stroke-width="1"/>
<text x="688.26"  y="47.90" font-size="3.5" text-anchor="middle" fill="#222" font-family="Liberation Sans, sans-serif">M</text>
<line x1="699.98" y1="42.2" x2="699.98" y2="51.3" stroke="#111" stroke-width="1"/>
<text x="696.12"  y="47.90" font-size="3.5" text-anchor="middle" fill="#222" font-family="Liberation Sans, sans-serif">A</text>
<line x1="707.96" y1="42.2" x2="707.96" y2="51.3" stroke="#111" stroke-width="1"/>
<text x="703.97"  y="47.90" font-size="3.5" text-anchor="middle" fill="#222" font-family="Liberation Sans, sans-serif">M</text>
<line x1="715.69" y1="42.2" x2="715.69" y2="51.3" stroke="#111" stroke-width="1"/>
<text x="711.83"  y="47.90" font-size="3.5" text-anchor="middle" fill="#222" font-family="Liberation Sans, sans-serif">J</text>
<line x1="723.67" y1="42.2" x2="723.67" y2="51.3" stroke="#111" stroke-width="1"/>
<text x="719.68"  y="47.90" font-size="3.5" text-anchor="middle" fill="#222" font-family="Liberation Sans, sans-serif">Jul</text>
<line x1="731.65" y1="42.2" x2="731.65" y2="51.3" stroke="#111" stroke-width="1"/>
<text x="727.66"  y="47.90" font-size="3.5" text-anchor="middle" fill="#222" font-family="Liberation Sans, sans-serif">A</text>
<line x1="739.38" y1="42.2" x2="739.38" y2="51.3" stroke="#111" stroke-width="1"/>
<text x="735.52"  y="47.90" font-size="3.5" text-anchor="middle" fill="#222" font-family="Liberation Sans, sans-serif">S</text>
<line x1="747.36" y1="42.2" x2="747.36" y2="51.3" stroke="#111" stroke-width="1"/>
<text x="743.37"  y="47.90" font-size="3.5" text-anchor="middle" fill="#222" font-family="Liberation Sans, sans-serif">O</text>
<line x1="755.09" y1="42.2" x2="755.09" y2="51.3" stroke="#111" stroke-width="1"/>
<text x="751.22"  y="47.90" font-size="3.5" text-anchor="middle" fill="#222" font-family="Liberation Sans, sans-serif">N</text>
<line x1="763.07" y1="42.2" x2="763.07" y2="51.3" stroke="#111" stroke-width="1"/>
<text x="759.08"  y="47.90" font-size="3.5" text-anchor="middle" fill="#222" font-family="Liberation Sans, sans-serif">D</text>
<line x1="771.05" y1="42.2" x2="771.05" y2="51.3" stroke="#111" stroke-width="1"/>
<text x="767.06"  y="47.90" font-size="3.5" text-anchor="middle" fill="#222" font-family="Liberation Sans, sans-serif">J</text>
<line x1="778.26" y1="42.2" x2="778.26" y2="51.3" stroke="#111" stroke-width="1"/>
<text x="774.65"  y="47.90" font-size="3.5" text-anchor="middle" fill="#222" font-family="Liberation Sans, sans-serif">F</text>
<line x1="786.24" y1="42.2" x2="786.24" y2="51.3" stroke="#111" stroke-width="1"/>
<text x="782.25"  y="47.90" font-size="3.5" text-anchor="middle" fill="#222" font-family="Liberation Sans, sans-serif">M</text>
<line x1="793.97" y1="42.2" x2="793.97" y2="51.3" stroke="#111" stroke-width="1"/>
<text x="790.11"  y="47.90" font-size="3.5" text-anchor="middle" fill="#222" font-family="Liberation Sans, sans-serif">A</text>
<line x1="801.95" y1="42.2" x2="801.95" y2="51.3" stroke="#111" stroke-width="1"/>
<text x="797.96"  y="47.90" font-size="3.5" text-anchor="middle" fill="#222" font-family="Liberation Sans, sans-serif">M</text>
<line x1="809.68" y1="42.2" x2="809.68" y2="51.3" stroke="#111" stroke-width="1"/>
<text x="805.81"  y="47.90" font-size="3.5" text-anchor="middle" fill="#222" font-family="Liberation Sans, sans-serif">J</text>
<line x1="817.66" y1="42.2" x2="817.66" y2="51.3" stroke="#111" stroke-width="1"/>
<text x="813.67"  y="47.90" font-size="3.5" text-anchor="middle" fill="#222" font-family="Liberation Sans, sans-serif">Jul</text>
<line x1="825.64" y1="42.2" x2="825.64" y2="51.3" stroke="#111" stroke-width="1"/>
<text x="821.65"  y="47.90" font-size="3.5" text-anchor="middle" fill="#222" font-family="Liberation Sans, sans-serif">A</text>
<line x1="833.37" y1="42.2" x2="833.37" y2="51.3" stroke="#111" stroke-width="1"/>
<text x="829.50"  y="47.90" font-size="3.5" text-anchor="middle" fill="#222" font-family="Liberation Sans, sans-serif">S</text>
<line x1="841.35" y1="42.2" x2="841.35" y2="51.3" stroke="#111" stroke-width="1"/>
<text x="837.36"  y="47.90" font-size="3.5" text-anchor="middle" fill="#222" font-family="Liberation Sans, sans-serif">O</text>
<line x1="849.07" y1="42.2" x2="849.07" y2="51.3" stroke="#111" stroke-width="1"/>
<text x="845.21"  y="47.90" font-size="3.5" text-anchor="middle" fill="#222" font-family="Liberation Sans, sans-serif">N</text>
<line x1="857.06" y1="42.2" x2="857.06" y2="51.3" stroke="#111" stroke-width="1"/>
<text x="853.06"  y="47.90" font-size="3.5" text-anchor="middle" fill="#222" font-family="Liberation Sans, sans-serif">D</text>
<line x1="865.04" y1="42.2" x2="865.04" y2="51.3" stroke="#111" stroke-width="1"/>
<text x="861.05"  y="47.90" font-size="3.5" text-anchor="middle" fill="#222" font-family="Liberation Sans, sans-serif">J</text>
<line x1="872.25" y1="42.2" x2="872.25" y2="51.3" stroke="#111" stroke-width="1"/>
<text x="868.64"  y="47.90" font-size="3.5" text-anchor="middle" fill="#222" font-family="Liberation Sans, sans-serif">F</text>
<line x1="880.23" y1="42.2" x2="880.23" y2="51.3" stroke="#111" stroke-width="1"/>
<text x="876.24"  y="47.90" font-size="3.5" text-anchor="middle" fill="#222" font-family="Liberation Sans, sans-serif">M</text>
<line x1="887.96" y1="42.2" x2="887.96" y2="51.3" stroke="#111" stroke-width="1"/>
<text x="884.09"  y="47.90" font-size="3.5" text-anchor="middle" fill="#222" font-family="Liberation Sans, sans-serif">A</text>
<line x1="895.94" y1="42.2" x2="895.94" y2="51.3" stroke="#111" stroke-width="1"/>
<text x="891.95"  y="47.90" font-size="3.5" text-anchor="middle" fill="#222" font-family="Liberation Sans, sans-serif">M</text>
<line x1="903.66" y1="42.2" x2="903.66" y2="51.3" stroke="#111" stroke-width="1"/>
<text x="899.80"  y="47.90" font-size="3.5" text-anchor="middle" fill="#222" font-family="Liberation Sans, sans-serif">J</text>
<line x1="911.64" y1="42.2" x2="911.64" y2="51.3" stroke="#111" stroke-width="1"/>
<text x="907.65"  y="47.90" font-size="3.5" text-anchor="middle" fill="#222" font-family="Liberation Sans, sans-serif">Jul</text>
<line x1="919.63" y1="42.2" x2="919.63" y2="51.3" stroke="#111" stroke-width="1"/>
<text x="915.64"  y="47.90" font-size="3.5" text-anchor="middle" fill="#222" font-family="Liberation Sans, sans-serif">A</text>
<line x1="927.35" y1="42.2" x2="927.35" y2="51.3" stroke="#111" stroke-width="1"/>
<text x="923.49"  y="47.90" font-size="3.5" text-anchor="middle" fill="#222" font-family="Liberation Sans, sans-serif">S</text>
<line x1="935.34" y1="42.2" x2="935.34" y2="51.3" stroke="#111" stroke-width="1"/>
<text x="931.34"  y="47.90" font-size="3.5" text-anchor="middle" fill="#222" font-family="Liberation Sans, sans-serif">O</text>
<line x1="943.06" y1="42.2" x2="943.06" y2="51.3" stroke="#111" stroke-width="1"/>
<text x="939.20"  y="47.90" font-size="3.5" text-anchor="middle" fill="#222" font-family="Liberation Sans, sans-serif">N</text>
<line x1="951.04" y1="42.2" x2="951.04" y2="51.3" stroke="#111" stroke-width="1"/>
<text x="947.05"  y="47.90" font-size="3.5" text-anchor="middle" fill="#222" font-family="Liberation Sans, sans-serif">D</text>
<line x1="959.03" y1="42.2" x2="959.03" y2="51.3" stroke="#111" stroke-width="1"/>
<text x="955.03"  y="47.90" font-size="3.5" text-anchor="middle" fill="#222" font-family="Liberation Sans, sans-serif">J</text>
<line x1="966.49" y1="42.2" x2="966.49" y2="51.3" stroke="#111" stroke-width="1"/>
<text x="962.76"  y="47.90" font-size="3.5" text-anchor="middle" fill="#222" font-family="Liberation Sans, sans-serif">F</text>
<line x1="974.48" y1="42.2" x2="974.48" y2="51.3" stroke="#111" stroke-width="1"/>
<text x="970.48"  y="47.90" font-size="3.5" text-anchor="middle" fill="#222" font-family="Liberation Sans, sans-serif">M</text>
<line x1="982.20" y1="42.2" x2="982.20" y2="51.3" stroke="#111" stroke-width="1"/>
<text x="978.34"  y="47.90" font-size="3.5" text-anchor="middle" fill="#222" font-family="Liberation Sans, sans-serif">A</text>
<line x1="990.18" y1="42.2" x2="990.18" y2="51.3" stroke="#111" stroke-width="1"/>
<text x="986.19"  y="47.90" font-size="3.5" text-anchor="middle" fill="#222" font-family="Liberation Sans, sans-serif">M</text>
<line x1="997.91" y1="42.2" x2="997.91" y2="51.3" stroke="#111" stroke-width="1"/>
<text x="994.05"  y="47.90" font-size="3.5" text-anchor="middle" fill="#222" font-family="Liberation Sans, sans-serif">J</text>
<line x1="1005.89" y1="42.2" x2="1005.89" y2="51.3" stroke="#111" stroke-width="1"/>
<text x="1001.90"  y="47.90" font-size="3.5" text-anchor="middle" fill="#222" font-family="Liberation Sans, sans-serif">Jul</text>
<line x1="1013.87" y1="42.2" x2="1013.87" y2="51.3" stroke="#111" stroke-width="1"/>
<text x="1009.88"  y="47.90" font-size="3.5" text-anchor="middle" fill="#222" font-family="Liberation Sans, sans-serif">A</text>
<line x1="1021.60" y1="42.2" x2="1021.60" y2="51.3" stroke="#111" stroke-width="1"/>
<text x="1017.74"  y="47.90" font-size="3.5" text-anchor="middle" fill="#222" font-family="Liberation Sans, sans-serif">S</text>
<line x1="1029.58" y1="42.2" x2="1029.58" y2="51.3" stroke="#111" stroke-width="1"/>
<text x="1025.59"  y="47.90" font-size="3.5" text-anchor="middle" fill="#222" font-family="Liberation Sans, sans-serif">O</text>
<line x1="1037.31" y1="42.2" x2="1037.31" y2="51.3" stroke="#111" stroke-width="1"/>
<text x="1033.44"  y="47.90" font-size="3.5" text-anchor="middle" fill="#222" font-family="Liberation Sans, sans-serif">N</text>
<line x1="1045.29" y1="42.2" x2="1045.29" y2="51.3" stroke="#111" stroke-width="1"/>
<text x="1041.30"  y="47.90" font-size="3.5" text-anchor="middle" fill="#222" font-family="Liberation Sans, sans-serif">D</text>
<line x1="1053.27" y1="42.2" x2="1053.27" y2="51.3" stroke="#111" stroke-width="1"/>
<text x="1049.28"  y="47.90" font-size="3.5" text-anchor="middle" fill="#222" font-family="Liberation Sans, sans-serif">J</text>
<line x1="1060.48" y1="42.2" x2="1060.48" y2="51.3" stroke="#111" stroke-width="1"/>
<text x="1056.88"  y="47.90" font-size="3.5" text-anchor="middle" fill="#222" font-family="Liberation Sans, sans-serif">F</text>
<line x1="1067.60" y1="42.2" x2="1067.60" y2="51.3" stroke="#111" stroke-width="1"/>
<text x="1064.04"  y="47.90" font-size="3.5" text-anchor="middle" fill="#222" font-family="Liberation Sans, sans-serif">M</text>
<text x="619.00" y="38.70" font-size="3.5" fill="#222" font-family="Liberation Sans, sans-serif">024</text>
<line x1="669.08" y1="34.3" x2="669.08" y2="51.3" stroke="#111" stroke-width="1.2"/>
<text x="716.07" y="38.70" font-size="3.5" text-anchor="middle" fill="#222" font-family="Liberation Sans, sans-serif">2025</text>
<line x1="763.07" y1="34.3" x2="763.07" y2="51.3" stroke="#111" stroke-width="1.2"/>
<text x="810.06" y="38.70" font-size="3.5" text-anchor="middle" fill="#222" font-family="Liberation Sans, sans-serif">2026</text>
<line x1="857.06" y1="34.3" x2="857.06" y2="51.3" stroke="#111" stroke-width="1.2"/>
<text x="904.05" y="38.70" font-size="3.5" text-anchor="middle" fill="#222" font-family="Liberation Sans, sans-serif">2027</text>
<line x1="951.04" y1="34.3" x2="951.04" y2="51.3" stroke="#111" stroke-width="1.2"/>
<text x="998.17" y="38.70" font-size="3.5" text-anchor="middle" fill="#222" font-family="Liberation Sans, sans-serif">2028</text>
<line x1="1045.29" y1="34.3" x2="1045.29" y2="51.3" stroke="#111" stroke-width="1.2"/>
<text x="1056.44" y="38.70" font-size="3.5" text-anchor="middle" fill="#222" font-family="Liberation Sans, sans-serif">2029</text>
<line x1="618.4" y1="42.2" x2="1067.6" y2="42.2" stroke="#111" stroke-width="1"/>
<line x1="618.4" y1="51.3" x2="1067.6" y2="51.3" stroke="#111" stroke-width="1.1"/>
<line x1="34.0" y1="51.3" x2="618.4" y2="51.3" stroke="#666" stroke-width="0.8"/>
<rect x="625.31" y="52.55" width="390.37" height="2.7" fill="#000"/>
<path d="M623.41 52.95 L627.21 52.95 L625.31 57.25 Z" fill="#ffff98" stroke="#34340a" stroke-width="1.1" stroke-linejoin="round"/>
<path d="M1013.78 52.95 L1017.58 52.95 L1015.68 57.25 Z" fill="#ffff98" stroke="#34340a" stroke-width="1.1" stroke-linejoin="round"/>
<rect x="625.31" y="66.65" width="390.37" height="2.7" fill="#000"/>
<path d="M623.41 67.05 L627.21 67.05 L625.31 71.35 Z" fill="#ffff98" stroke="#34340a" stroke-width="1.1" stroke-linejoin="round"/>
<path d="M1013.78 67.05 L1017.58 67.05 L1015.68 71.35 Z" fill="#ffff98" stroke="#34340a" stroke-width="1.1" stroke-linejoin="round"/>
<rect x="625.31" y="79.60" width="36.56" height="2.7" fill="#000"/>
<path d="M623.41 80.00 L627.21 80.00 L625.31 84.30 Z" fill="#ffff98" stroke="#34340a" stroke-width="1.1" stroke-linejoin="round"/>
<path d="M659.97 80.00 L663.77 80.00 L661.87 84.30 Z" fill="#ffff98" stroke="#34340a" stroke-width="1.1" stroke-linejoin="round"/>
<rect x="628.91" y="92.60" width="356.89" height="2.7" fill="#000"/>
<path d="M627.01 93.00 L630.81 93.00 L628.91 97.30 Z" fill="#ffff98" stroke="#34340a" stroke-width="1.1" stroke-linejoin="round"/>
<path d="M983.91 93.00 L987.71 93.00 L985.81 97.30 Z" fill="#ffff98" stroke="#34340a" stroke-width="1.1" stroke-linejoin="round"/>
<rect x="628.91" y="105.50" width="170.46" height="2.7" fill="#000"/>
<path d="M627.01 105.90 L630.81 105.90 L628.91 110.20 Z" fill="#ffff98" stroke="#34340a" stroke-width="1.1" stroke-linejoin="round"/>
<path d="M797.48 105.90 L801.27 105.90 L799.38 110.20 Z" fill="#ffff98" stroke="#34340a" stroke-width="1.1" stroke-linejoin="round"/>
<rect x="740.15" y="118.20" width="76.22" height="2.7" fill="#000"/>
<path d="M738.25 118.60 L742.05 118.60 L740.15 122.90 Z" fill="#ffff98" stroke="#34340a" stroke-width="1.1" stroke-linejoin="round"/>
<path d="M814.47 118.60 L818.27 118.60 L816.37 122.90 Z" fill="#ffff98" stroke="#34340a" stroke-width="1.1" stroke-linejoin="round"/>
<rect x="634.58" y="131.16" width="202.65" height="2.7" fill="#000"/>
<path d="M632.68 131.56 L636.48 131.56 L634.58 135.86 Z" fill="#ffff98" stroke="#34340a" stroke-width="1.1" stroke-linejoin="round"/>
<path d="M835.33 131.56 L839.13 131.56 L837.23 135.86 Z" fill="#ffff98" stroke="#34340a" stroke-width="1.1" stroke-linejoin="round"/>
<rect x="778.00" y="144.12" width="207.80" height="2.7" fill="#000"/>
<path d="M776.10 144.52 L779.90 144.52 L778.00 148.82 Z" fill="#ffff98" stroke="#34340a" stroke-width="1.1" stroke-linejoin="round"/>
<path d="M983.91 144.52 L987.71 144.52 L985.81 148.82 Z" fill="#ffff98" stroke="#34340a" stroke-width="1.1" stroke-linejoin="round"/>
<path d="M775.25 159.98 L778.00 157.23 L780.75 159.98 L778.00 162.73 Z" fill="#000"/>
<path d="M775.25 172.94 L778.00 170.19 L780.75 172.94 L778.00 175.69 Z" fill="#000"/>
<path d="M834.48 185.90 L837.23 183.15 L839.98 185.90 L837.23 188.65 Z" fill="#000"/>
<path d="M842.20 198.86 L844.95 196.11 L847.70 198.86 L844.95 201.61 Z" fill="#000"/>
<path d="M975.33 211.82 L978.08 209.07 L980.83 211.82 L978.08 214.57 Z" fill="#000"/>
<path d="M983.06 224.78 L985.81 222.03 L988.56 224.78 L985.81 227.53 Z" fill="#000"/>
<rect x="672.69" y="234.84" width="342.99" height="2.7" fill="#000"/>
<path d="M670.79 235.24 L674.59 235.24 L672.69 239.54 Z" fill="#ffff98" stroke="#34340a" stroke-width="1.1" stroke-linejoin="round"/>
<path d="M1013.78 235.24 L1017.58 235.24 L1015.68 239.54 Z" fill="#ffff98" stroke="#34340a" stroke-width="1.1" stroke-linejoin="round"/>
<rect x="758.95" y="247.80" width="61.54" height="2.7" fill="#000"/>
<path d="M757.05 248.20 L760.85 248.20 L758.95 252.50 Z" fill="#ffff98" stroke="#34340a" stroke-width="1.1" stroke-linejoin="round"/>
<path d="M818.59 248.20 L822.39 248.20 L820.49 252.50 Z" fill="#ffff98" stroke="#34340a" stroke-width="1.1" stroke-linejoin="round"/>
<rect x="672.69" y="260.76" width="129.26" height="2.7" fill="#000"/>
<path d="M670.79 261.16 L674.59 261.16 L672.69 265.46 Z" fill="#ffff98" stroke="#34340a" stroke-width="1.1" stroke-linejoin="round"/>
<path d="M800.05 261.16 L803.85 261.16 L801.95 265.46 Z" fill="#ffff98" stroke="#34340a" stroke-width="1.1" stroke-linejoin="round"/>
<rect x="738.09" y="273.72" width="136.73" height="2.7" fill="#000"/>
<path d="M736.19 274.12 L739.99 274.12 L738.09 278.42 Z" fill="#ffff98" stroke="#34340a" stroke-width="1.1" stroke-linejoin="round"/>
<path d="M872.92 274.12 L876.72 274.12 L874.82 278.42 Z" fill="#ffff98" stroke="#34340a" stroke-width="1.1" stroke-linejoin="round"/>
<rect x="844.95" y="286.68" width="170.72" height="2.7" fill="#000"/>
<path d="M843.05 287.08 L846.85 287.08 L844.95 291.38 Z" fill="#ffff98" stroke="#34340a" stroke-width="1.1" stroke-linejoin="round"/>
<path d="M1013.78 287.08 L1017.58 287.08 L1015.68 291.38 Z" fill="#ffff98" stroke="#34340a" stroke-width="1.1" stroke-linejoin="round"/>
<path d="M872.07 302.54 L874.82 299.79 L877.57 302.54 L874.82 305.29 Z" fill="#000"/>
<path d="M842.20 315.50 L844.95 312.75 L847.70 315.50 L844.95 318.25 Z" fill="#000"/>
<path d="M1012.93 328.46 L1015.68 325.71 L1018.43 328.46 L1015.68 331.21 Z" fill="#000"/>
<path d="M983.06 341.42 L985.81 338.67 L988.56 341.42 L985.81 344.17 Z" fill="#000"/>
<rect x="704.87" y="351.48" width="296.64" height="2.7" fill="#000"/>
<path d="M702.97 351.88 L706.77 351.88 L704.87 356.18 Z" fill="#ffff98" stroke="#34340a" stroke-width="1.1" stroke-linejoin="round"/>
<path d="M999.61 351.88 L1003.41 351.88 L1001.51 356.18 Z" fill="#ffff98" stroke="#34340a" stroke-width="1.1" stroke-linejoin="round"/>
<rect x="705.90" y="364.44" width="99.14" height="2.7" fill="#000"/>
<path d="M704.00 364.84 L707.80 364.84 L705.90 369.14 Z" fill="#ffff98" stroke="#34340a" stroke-width="1.1" stroke-linejoin="round"/>
<path d="M803.14 364.84 L806.94 364.84 L805.04 369.14 Z" fill="#ffff98" stroke="#34340a" stroke-width="1.1" stroke-linejoin="round"/>
<rect x="738.09" y="377.40" width="63.86" height="2.7" fill="#000"/>
<path d="M736.19 377.80 L739.99 377.80 L738.09 382.10 Z" fill="#ffff98" stroke="#34340a" stroke-width="1.1" stroke-linejoin="round"/>
<path d="M800.05 377.80 L803.85 377.80 L801.95 382.10 Z" fill="#ffff98" stroke="#34340a" stroke-width="1.1" stroke-linejoin="round"/>
<rect x="704.87" y="390.36" width="152.96" height="2.7" fill="#000"/>
<path d="M702.97 390.76 L706.77 390.76 L704.87 395.06 Z" fill="#ffff98" stroke="#34340a" stroke-width="1.1" stroke-linejoin="round"/>
<path d="M855.93 390.76 L859.73 390.76 L857.83 395.06 Z" fill="#ffff98" stroke="#34340a" stroke-width="1.1" stroke-linejoin="round"/>
<rect x="857.83" y="403.32" width="143.68" height="2.7" fill="#000"/>
<path d="M855.93 403.72 L859.73 403.72 L857.83 408.02 Z" fill="#ffff98" stroke="#34340a" stroke-width="1.1" stroke-linejoin="round"/>
<path d="M999.61 403.72 L1003.41 403.72 L1001.51 408.02 Z" fill="#ffff98" stroke="#34340a" stroke-width="1.1" stroke-linejoin="round"/>
<path d="M855.08 419.18 L857.83 416.43 L860.58 419.18 L857.83 421.93 Z" fill="#000"/>
<path d="M857.91 432.14 L860.66 429.39 L863.41 432.14 L860.66 434.89 Z" fill="#000"/>
<path d="M995.93 445.10 L998.68 442.35 L1001.43 445.10 L998.68 447.85 Z" fill="#000"/>
<path d="M998.76 458.06 L1001.51 455.31 L1004.26 458.06 L1001.51 460.81 Z" fill="#000"/>
<rect x="653.37" y="468.12" width="255.70" height="2.7" fill="#000"/>
<path d="M651.47 468.52 L655.27 468.52 L653.37 472.82 Z" fill="#ffff98" stroke="#34340a" stroke-width="1.1" stroke-linejoin="round"/>
<path d="M907.17 468.52 L910.97 468.52 L909.07 472.82 Z" fill="#ffff98" stroke="#34340a" stroke-width="1.1" stroke-linejoin="round"/>
<rect x="663.93" y="481.08" width="104.29" height="2.7" fill="#000"/>
<path d="M662.03 481.48 L665.83 481.48 L663.93 485.78 Z" fill="#ffff98" stroke="#34340a" stroke-width="1.1" stroke-linejoin="round"/>
<path d="M766.32 481.48 L770.12 481.48 L768.22 485.78 Z" fill="#ffff98" stroke="#34340a" stroke-width="1.1" stroke-linejoin="round"/>
<rect x="731.65" y="494.04" width="63.86" height="2.7" fill="#000"/>
<path d="M729.75 494.44 L733.55 494.44 L731.65 498.74 Z" fill="#ffff98" stroke="#34340a" stroke-width="1.1" stroke-linejoin="round"/>
<path d="M793.61 494.44 L797.41 494.44 L795.51 498.74 Z" fill="#ffff98" stroke="#34340a" stroke-width="1.1" stroke-linejoin="round"/>
<rect x="653.37" y="507.00" width="160.68" height="2.7" fill="#000"/>
<path d="M651.47 507.40 L655.27 507.40 L653.37 511.70 Z" fill="#ffff98" stroke="#34340a" stroke-width="1.1" stroke-linejoin="round"/>
<path d="M812.15 507.40 L815.95 507.40 L814.05 511.70 Z" fill="#ffff98" stroke="#34340a" stroke-width="1.1" stroke-linejoin="round"/>
<rect x="814.05" y="519.96" width="95.02" height="2.7" fill="#000"/>
<path d="M812.15 520.36 L815.95 520.36 L814.05 524.66 Z" fill="#ffff98" stroke="#34340a" stroke-width="1.1" stroke-linejoin="round"/>
<path d="M907.17 520.36 L910.97 520.36 L909.07 524.66 Z" fill="#ffff98" stroke="#34340a" stroke-width="1.1" stroke-linejoin="round"/>
<path d="M811.30 535.82 L814.05 533.07 L816.80 535.82 L814.05 538.57 Z" fill="#000"/>
<path d="M812.33 548.78 L815.08 546.03 L817.83 548.78 L815.08 551.53 Z" fill="#000"/>
<path d="M905.29 561.74 L908.04 558.99 L910.79 561.74 L908.04 564.49 Z" fill="#000"/>
<path d="M906.32 574.70 L909.07 571.95 L911.82 574.70 L909.07 577.45 Z" fill="#000"/>
<rect x="752.25" y="584.76" width="234.84" height="2.7" fill="#000"/>
<path d="M750.35 585.16 L754.15 585.16 L752.25 589.46 Z" fill="#ffff98" stroke="#34340a" stroke-width="1.1" stroke-linejoin="round"/>
<path d="M985.19 585.16 L988.99 585.16 L987.09 589.46 Z" fill="#ffff98" stroke="#34340a" stroke-width="1.1" stroke-linejoin="round"/>
<rect x="752.25" y="597.72" width="234.84" height="2.7" fill="#000"/>
<path d="M750.35 598.12 L754.15 598.12 L752.25 602.42 Z" fill="#ffff98" stroke="#34340a" stroke-width="1.1" stroke-linejoin="round"/>
<path d="M985.19 598.12 L988.99 598.12 L987.09 602.42 Z" fill="#ffff98" stroke="#34340a" stroke-width="1.1" stroke-linejoin="round"/>
<path d="M985.19 611.08 L988.99 611.08 L987.09 615.38 Z" fill="#ffff98" stroke="#34340a" stroke-width="1.1" stroke-linejoin="round"/>
<path d="M984.34 626.54 L987.09 623.79 L989.84 626.54 L987.09 629.29 Z" fill="#000"/>
<path d="M984.34 639.50 L987.09 636.75 L989.84 639.50 L987.09 642.25 Z" fill="#000"/>
<rect x="651.57" y="649.56" width="247.20" height="2.7" fill="#000"/>
<path d="M649.67 649.96 L653.47 649.96 L651.57 654.26 Z" fill="#ffff98" stroke="#34340a" stroke-width="1.1" stroke-linejoin="round"/>
<path d="M896.87 649.96 L900.67 649.96 L898.77 654.26 Z" fill="#ffff98" stroke="#34340a" stroke-width="1.1" stroke-linejoin="round"/>
<rect x="742.21" y="662.52" width="46.09" height="2.7" fill="#000"/>
<path d="M740.31 662.92 L744.11 662.92 L742.21 667.22 Z" fill="#ffff98" stroke="#34340a" stroke-width="1.1" stroke-linejoin="round"/>
<path d="M786.40 662.92 L790.20 662.92 L788.30 667.22 Z" fill="#ffff98" stroke="#34340a" stroke-width="1.1" stroke-linejoin="round"/>
<rect x="651.57" y="675.48" width="151.41" height="2.7" fill="#000"/>
<path d="M649.67 675.88 L653.47 675.88 L651.57 680.18 Z" fill="#ffff98" stroke="#34340a" stroke-width="1.1" stroke-linejoin="round"/>
<path d="M801.08 675.88 L804.88 675.88 L802.98 680.18 Z" fill="#ffff98" stroke="#34340a" stroke-width="1.1" stroke-linejoin="round"/>
<rect x="712.86" y="688.44" width="174.59" height="2.7" fill="#000"/>
<path d="M710.96 688.84 L714.75 688.84 L712.86 693.14 Z" fill="#ffff98" stroke="#34340a" stroke-width="1.1" stroke-linejoin="round"/>
<path d="M885.54 688.84 L889.34 688.84 L887.44 693.14 Z" fill="#ffff98" stroke="#34340a" stroke-width="1.1" stroke-linejoin="round"/>
<rect x="887.44" y="701.40" width="11.33" height="2.7" fill="#000"/>
<path d="M885.54 701.80 L889.34 701.80 L887.44 706.10 Z" fill="#ffff98" stroke="#34340a" stroke-width="1.1" stroke-linejoin="round"/>
<path d="M896.87 701.80 L900.67 701.80 L898.77 706.10 Z" fill="#ffff98" stroke="#34340a" stroke-width="1.1" stroke-linejoin="round"/>
<path d="M884.69 717.26 L887.44 714.51 L890.19 717.26 L887.44 720.01 Z" fill="#000"/>
<path d="M896.02 730.22 L898.77 727.47 L901.52 730.22 L898.77 732.97 Z" fill="#000"/>
<line x1="618.4" y1="34.3" x2="618.4" y2="739.1800000000003" stroke="#333" stroke-width="1.2"/>
<line x1="618.4" y1="739.1800000000003" x2="1067.6" y2="739.1800000000003" stroke="#777" stroke-width="1"/>
<rect x="34.0" y="34.3" width="1033.6" height="709.7" fill="none" stroke="#666" stroke-width="1.1"/>
<line x1="34.0" y1="34.3" x2="618.4" y2="34.3" stroke="#333" stroke-width="1.3"/>
<line x1="618.4" y1="34.199999999999996" x2="1068.1" y2="34.199999999999996" stroke="#111" stroke-width="1.6"/>
<line x1="34.0" y1="51.3" x2="34.0" y2="744.0" stroke="#15156a" stroke-width="1.1"/>
</svg>
<div class="t" style="left:783.70px;--y:159.98px;font-size:6.5px;color:#000">28-Feb-26</div>
<div class="t" style="left:783.70px;--y:172.94px;font-size:6.5px;color:#000">28-Feb-26*</div>
<div class="t" style="left:842.93px;--y:185.90px;font-size:6.5px;color:#000">16-Oct-26</div>
<div class="t" style="left:850.65px;--y:198.86px;font-size:6.5px;color:#000">15-Nov-26*</div>
<div class="t" style="left:983.78px;--y:211.82px;font-size:6.5px;color:#000">15-Apr-28</div>
<div class="t" style="left:991.51px;--y:224.78px;font-size:6.5px;color:#000">15-May-28*</div>
<div class="t" style="left:880.52px;--y:302.54px;font-size:6.5px;color:#000">11-Mar-27</div>
<div class="t" style="left:850.65px;--y:315.50px;font-size:6.5px;color:#000">15-Nov-26*</div>
<div class="t" style="left:1021.38px;--y:328.46px;font-size:6.5px;color:#000">08-Sep-28</div>
<div class="t" style="left:991.51px;--y:341.42px;font-size:6.5px;color:#000">15-May-28*</div>
<div class="t" style="left:863.53px;--y:419.18px;font-size:6.5px;color:#000">04-Jan-27</div>
<div class="t" style="left:866.36px;--y:432.14px;font-size:6.5px;color:#000">15-Jan-27*</div>
<div class="t" style="left:1004.38px;--y:445.10px;font-size:6.5px;color:#000">04-Jul-28</div>
<div class="t" style="left:1007.21px;--y:458.06px;font-size:6.5px;color:#000">15-Jul-28*</div>
<div class="t" style="left:819.75px;--y:535.82px;font-size:6.5px;color:#000">18-Jul-26</div>
<div class="t" style="left:820.78px;--y:548.78px;font-size:6.5px;color:#000">22-Jul-26*</div>
<div class="t" style="left:913.74px;--y:561.74px;font-size:6.5px;color:#000">18-Jul-27</div>
<div class="t" style="left:914.77px;--y:574.70px;font-size:6.5px;color:#000">22-Jul-27*</div>
<div class="t" style="left:992.79px;--y:626.54px;font-size:6.5px;color:#000">20-May-28</div>
<div class="t" style="left:992.79px;--y:639.50px;font-size:6.5px;color:#000">20-May-28*</div>
<div class="t" style="left:893.14px;--y:717.26px;font-size:6.5px;color:#000">29-Apr-27</div>
<div class="t" style="left:904.47px;--y:730.22px;font-size:6.5px;color:#000">12-Jun-27*</div>
<div class="t h" style="left:35.7px;--y:38.3px">Activity ID</div>
<div class="t h" style="left:121.5px;--y:38.3px">Activity Name</div>
<div class="t h r" style="left:492.6px;width:33.3px;--y:38.3px">Original Duration</div>
<div class="t h c" style="left:526.5px;width:45.9px;--y:38.3px">Early Start</div>
<div class="t h c" style="left:572.4px;width:46.0px;--y:38.3px">Early Finish</div>
</div></body></html>
